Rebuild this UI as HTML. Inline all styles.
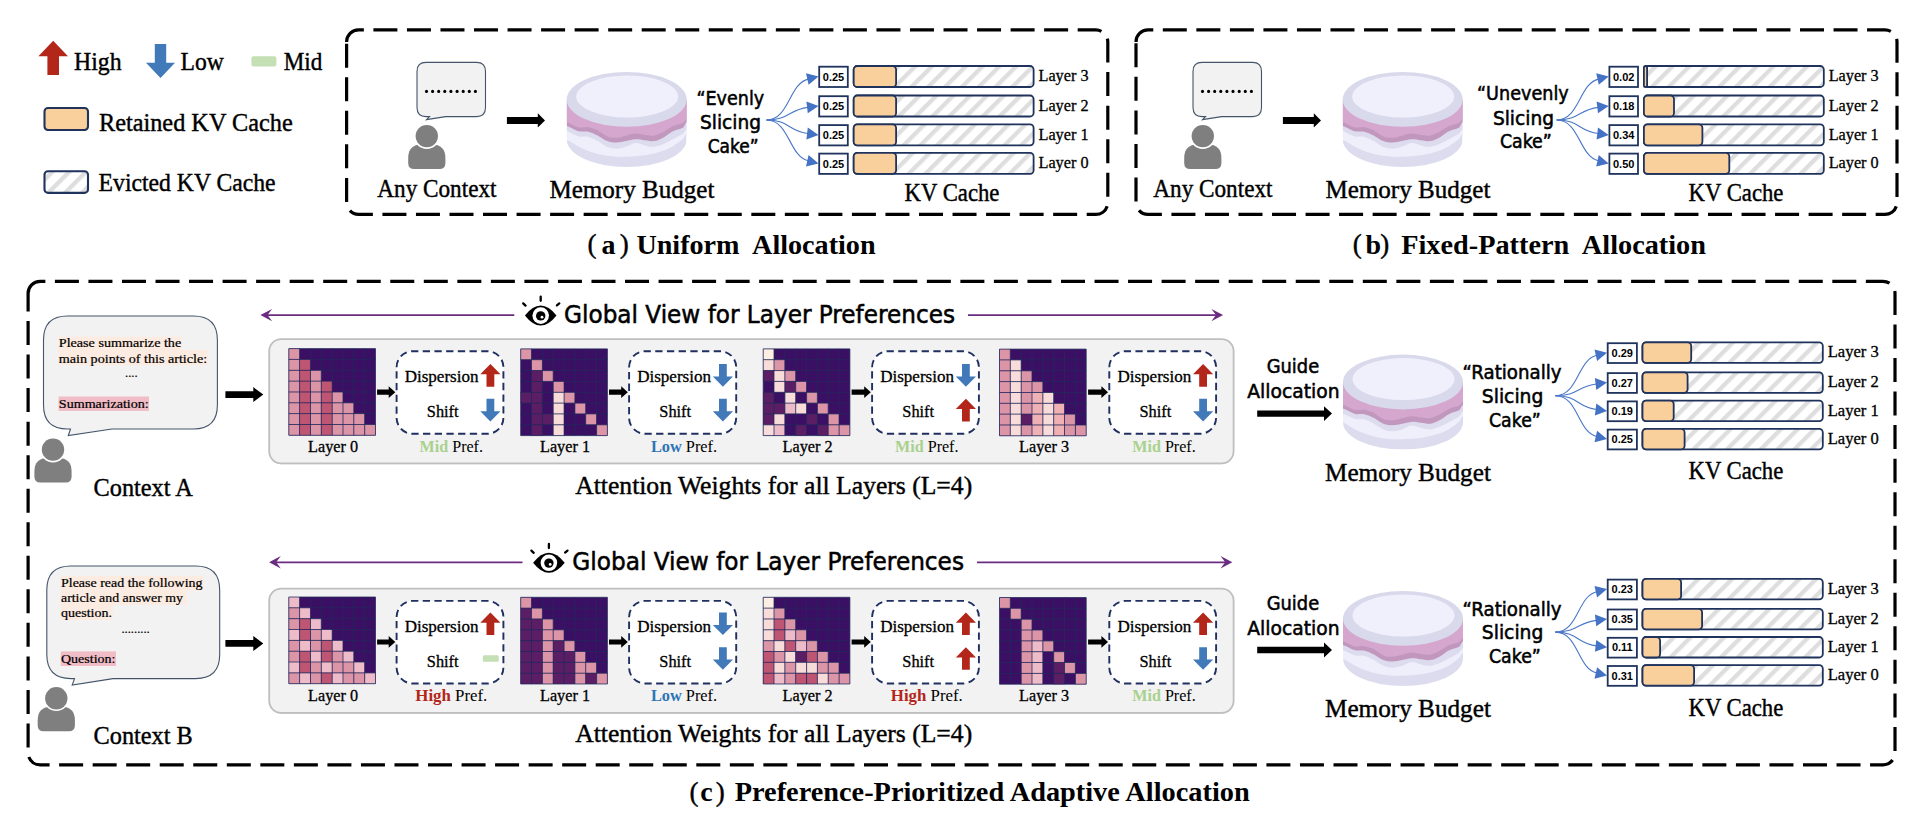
<!DOCTYPE html>
<html lang="en"><head><meta charset="utf-8"><title>KV Cache Allocation</title>
<style>html,body{margin:0;padding:0;background:#fff}svg{display:block}text{white-space:pre}</style>
</head><body>
<svg width="1920" height="818" viewBox="0 0 1920 818">
<defs>
<pattern id="hatch" width="11.9" height="11.9" patternUnits="userSpaceOnUse" patternTransform="rotate(45) translate(1.7 0)"><rect width="11.9" height="11.9" fill="#fff"/><rect x="0" y="0" width="4.3" height="11.9" fill="#dedede"/></pattern>
</defs>
<rect width="1920" height="818" fill="#fff"/>
<path d="M53.2,40.8 L68.0,56.2 L59.0,56.2 L59.0,75.0 L47.4,75.0 L47.4,56.2 L38.4,56.2 Z" fill="#b3261a"/>
<text x="74.0" y="69.7" font-size="25" font-family='"Liberation Serif", "DejaVu Serif", serif' textLength="47.5" lengthAdjust="spacingAndGlyphs" stroke="#000" stroke-width="0.42">High</text>
<path d="M160.5,78.0 L175.0,62.7 L166.2,62.7 L166.2,44.0 L154.8,44.0 L154.8,62.7 L146.0,62.7 Z" fill="#4179b9"/>
<text x="180.5" y="70.1" font-size="25" font-family='"Liberation Serif", "DejaVu Serif", serif' textLength="43.3" lengthAdjust="spacingAndGlyphs" stroke="#000" stroke-width="0.42">Low</text>
<rect x="251.4" y="56.2" width="25" height="10.3" rx="2" fill="#c5e0b4"/>
<text x="283.7" y="70.1" font-size="25" font-family='"Liberation Serif", "DejaVu Serif", serif' textLength="38.6" lengthAdjust="spacingAndGlyphs" stroke="#000" stroke-width="0.42">Mid</text>
<rect x="44.5" y="108" width="43.5" height="22" rx="3.5" fill="#f9cf9b" stroke="#1f335d" stroke-width="2.1"/>
<text x="99.0" y="130.5" font-size="25" font-family='"Liberation Serif", "DejaVu Serif", serif' textLength="193.7" lengthAdjust="spacingAndGlyphs" stroke="#000" stroke-width="0.42">Retained KV Cache</text>
<rect x="44.5" y="171.3" width="43.5" height="21.6" rx="3.5" fill="url(#hatch)" stroke="#1f335d" stroke-width="2.1"/>
<text x="98.6" y="191.2" font-size="25" font-family='"Liberation Serif", "DejaVu Serif", serif' textLength="177.0" lengthAdjust="spacingAndGlyphs" stroke="#000" stroke-width="0.42">Evicted KV Cache</text>
<path d="M346.6,41.9 A12,12 0 0 1 358.6,29.9 H1095.8 A12,12 0 0 1 1107.8,41.9 V202.4 A12,12 0 0 1 1095.8,214.4 H358.6 A12,12 0 0 1 346.6,202.4 Z" fill="none" stroke="#000" stroke-width="3.2" stroke-dasharray="24 9.536" stroke-dashoffset="0"/>
<path d="M426.0,62.4 L476.5,62.4 Q485.5,62.4 485.5,71.4 L485.5,107.6 Q485.5,116.6 476.5,116.6 L445.6,116.6 L426.5,119.6 L429.5,116.6 L426.0,116.6 Q417.0,116.6 417.0,107.6 L417.0,71.4 Q417.0,62.4 426.0,62.4 Z" fill="#f2f2f2" stroke="#44546a" stroke-width="1.1"/>
<circle cx="426.5" cy="91.4" r="1.55" fill="#000"/>
<circle cx="432.6" cy="91.4" r="1.55" fill="#000"/>
<circle cx="438.7" cy="91.4" r="1.55" fill="#000"/>
<circle cx="444.8" cy="91.4" r="1.55" fill="#000"/>
<circle cx="450.9" cy="91.4" r="1.55" fill="#000"/>
<circle cx="457.1" cy="91.4" r="1.55" fill="#000"/>
<circle cx="463.2" cy="91.4" r="1.55" fill="#000"/>
<circle cx="469.3" cy="91.4" r="1.55" fill="#000"/>
<circle cx="475.4" cy="91.4" r="1.55" fill="#000"/>
<g fill="#7f7f7f">
<path d="M408.2,163.1 L408.2,158.0 Q408.2,144.5 421.7,144.5 L431.9,144.5 Q445.4,144.5 445.4,158.0 L445.4,163.1 Q445.4,169.1 439.4,169.1 L414.2,169.1 Q408.2,169.1 408.2,163.1 Z"/>
<circle cx="426.8" cy="136.1" r="12.8" fill="#fff"/>
<circle cx="426.8" cy="136.1" r="11.2"/>
</g>
<text x="377.3" y="196.5" font-size="25" font-family='"Liberation Serif", "DejaVu Serif", serif' textLength="119.2" lengthAdjust="spacingAndGlyphs" stroke="#000" stroke-width="0.42">Any Context</text>
<path d="M506.9,117.0 L537.8,117.0 L537.8,113.3 L545.0,120.4 L537.8,127.5 L537.8,123.9 L506.9,123.9 Z" fill="#000"/>
<g transform="translate(566.7,72.0)">
<clipPath id="ck1"><path d="M0,27.4 L0,67.6 A60,27.4 0 0 0 120,67.6 L120,27.4 Z"/></clipPath>
<g clip-path="url(#ck1)">
<rect x="0" y="0" width="120" height="100" fill="#dcdcee"/>
<path d="M-1,0 L-1.0,67.6 C-0.4,67.9 0.5,67.9 2.7,69.1 C4.9,70.3 9.0,73.1 12.1,74.8 C15.3,76.4 18.4,77.8 21.5,79.0 C24.7,80.2 27.8,81.1 31.0,81.9 C34.1,82.6 37.2,83.3 40.4,83.7 C43.5,84.2 46.7,84.5 49.8,84.7 C52.9,84.8 56.1,84.8 59.2,84.7 C62.4,84.6 65.5,84.4 68.6,84.2 C71.8,84.0 74.9,83.7 78.0,83.3 C81.2,82.8 84.3,82.2 87.5,81.4 C90.6,80.6 93.7,79.7 96.9,78.6 C100.0,77.4 103.2,76.2 106.3,74.3 C109.4,72.4 113.6,69.2 115.7,67.3 C117.8,65.3 118.1,63.7 119.0,62.5 C119.9,61.4 120.7,60.9 121.0,60.5 L121,0 Z" fill="#efeffc"/>
<path d="M-1,0 L-1.0,58.7 C-0.4,58.9 0.5,59.2 2.7,60.2 C4.9,61.2 9.0,63.6 12.1,64.4 C15.3,65.2 18.4,64.1 21.5,64.9 C24.7,65.7 27.8,67.5 31.0,69.1 C34.1,70.8 37.2,73.5 40.4,74.8 C43.5,76.0 46.7,76.7 49.8,76.7 C52.9,76.7 56.1,75.7 59.2,74.8 C62.4,73.8 65.5,71.3 68.6,71.0 C71.8,70.8 74.9,72.7 78.0,73.4 C81.2,74.0 84.3,75.0 87.5,74.8 C90.6,74.6 93.7,73.2 96.9,72.0 C100.0,70.7 103.2,68.9 106.3,67.3 C109.4,65.6 113.6,63.6 115.7,62.1 C117.8,60.5 118.1,58.9 119.0,57.8 C119.9,56.8 120.7,56.2 121.0,55.8 L121,0 Z" fill="#dcdcee"/>
<path d="M-1,0 L-1.0,53.5 C-0.4,53.8 0.5,54.1 2.7,55.0 C4.9,56.0 9.0,58.5 12.1,59.3 C15.3,60.0 18.4,59.0 21.5,59.7 C24.7,60.4 27.8,61.9 31.0,63.5 C34.1,65.1 37.2,68.0 40.4,69.1 C43.5,70.3 46.7,70.6 49.8,70.6 C52.9,70.6 56.1,69.7 59.2,69.1 C62.4,68.6 65.5,67.4 68.6,67.3 C71.8,67.1 74.9,67.9 78.0,68.2 C81.2,68.5 84.3,69.6 87.5,69.1 C90.6,68.7 93.7,67.0 96.9,65.4 C100.0,63.7 103.2,60.8 106.3,59.3 C109.4,57.7 113.6,57.3 115.7,56.0 C117.8,54.6 118.1,52.4 119.0,51.2 C119.9,50.1 120.7,49.6 121.0,49.2 L121,0 Z" fill="#c197be"/>
<path d="M-1,0 L-1.0,49.7 C-0.4,50.0 0.5,50.3 2.7,51.2 C4.9,52.2 9.0,54.8 12.1,55.5 C15.3,56.1 18.4,54.7 21.5,55.2 C24.7,55.7 27.8,56.8 31.0,58.3 C34.1,59.8 37.2,63.2 40.4,64.4 C43.5,65.7 46.7,66.0 49.8,65.8 C52.9,65.7 56.1,64.4 59.2,63.7 C62.4,63.0 65.5,61.7 68.6,61.6 C71.8,61.5 74.9,62.7 78.0,63.0 C81.2,63.3 84.3,64.0 87.5,63.5 C90.6,62.9 93.7,61.3 96.9,59.7 C100.0,58.2 103.2,55.5 106.3,54.1 C109.4,52.7 113.5,52.3 115.7,51.2 C117.9,50.2 118.4,48.4 119.3,47.5 C120.2,46.5 120.7,45.8 121.0,45.5 L121,0 Z" fill="#d5a6ce"/>
</g>
<ellipse cx="60" cy="27.4" rx="60" ry="27.4" fill="#d9d9ec"/>
<ellipse cx="60.5" cy="24.5" rx="51" ry="21" fill="#f0f0fd"/>
</g>
<text x="549.4" y="198.4" font-size="25" font-family='"Liberation Serif", "DejaVu Serif", serif' textLength="165.0" lengthAdjust="spacingAndGlyphs" stroke="#000" stroke-width="0.42">Memory Budget</text>
<text x="696.4" y="105.0" font-size="19" font-family='"DejaVu Sans", "Liberation Sans", sans-serif' textLength="67.8" lengthAdjust="spacingAndGlyphs" stroke="#000" stroke-width="0.55">“Evenly</text>
<text x="700.0" y="129.0" font-size="19" font-family='"DejaVu Sans", "Liberation Sans", sans-serif' textLength="61.0" lengthAdjust="spacingAndGlyphs" stroke="#000" stroke-width="0.55">Slicing</text>
<text x="707.7" y="153.0" font-size="19" font-family='"DejaVu Sans", "Liberation Sans", sans-serif' textLength="51.0" lengthAdjust="spacingAndGlyphs" stroke="#000" stroke-width="0.55">Cake”</text>
<path d="M766.5,120.0 C789.5,120.0 788.8,83.4 808.3,79.1" fill="none" stroke="#4a78c6" stroke-width="1.1"/>
<path d="M818.5,76.5 L806.0,73.3 L808.6,84.8 Z" fill="#4472c4"/>
<rect x="819.2" y="66.7" width="28.6" height="20.3" fill="#fff" stroke="#1f335d" stroke-width="1.8"/>
<text x="833.5" y="80.6" font-size="11" font-family='"Liberation Sans", "DejaVu Sans", sans-serif' font-weight="bold" text-anchor="middle">0.25</text>
<rect x="853.7" y="66.0" width="179.9" height="21.0" rx="3.6" ry="3.6" fill="url(#hatch)" stroke="#1f335d" stroke-width="1.8"/>
<rect x="853.7" y="66.0" width="42.4" height="21.0" rx="3.6" fill="#f9cf9b" stroke="#1f335d" stroke-width="1.8"/>
<path d="M766.5,120.0 C789.5,120.0 788.2,109.7 808.1,107.4" fill="none" stroke="#4a78c6" stroke-width="1.1"/>
<path d="M818.5,106.0 L806.4,101.5 L807.8,113.3 Z" fill="#4472c4"/>
<rect x="819.2" y="96.2" width="28.6" height="20.3" fill="#fff" stroke="#1f335d" stroke-width="1.8"/>
<text x="833.5" y="110.1" font-size="11" font-family='"Liberation Sans", "DejaVu Sans", sans-serif' font-weight="bold" text-anchor="middle">0.25</text>
<rect x="853.7" y="95.5" width="179.9" height="21.0" rx="3.6" ry="3.6" fill="url(#hatch)" stroke="#1f335d" stroke-width="1.8"/>
<rect x="853.7" y="95.5" width="42.4" height="21.0" rx="3.6" fill="#f9cf9b" stroke="#1f335d" stroke-width="1.8"/>
<path d="M766.5,120.0 C789.5,120.0 788.2,131.2 808.1,133.5" fill="none" stroke="#4a78c6" stroke-width="1.1"/>
<path d="M818.5,134.9 L807.8,127.6 L806.4,139.4 Z" fill="#4472c4"/>
<rect x="819.2" y="125.1" width="28.6" height="20.3" fill="#fff" stroke="#1f335d" stroke-width="1.8"/>
<text x="833.5" y="139.0" font-size="11" font-family='"Liberation Sans", "DejaVu Sans", sans-serif' font-weight="bold" text-anchor="middle">0.25</text>
<rect x="853.7" y="124.4" width="179.9" height="21.0" rx="3.6" ry="3.6" fill="url(#hatch)" stroke="#1f335d" stroke-width="1.8"/>
<rect x="853.7" y="124.4" width="42.4" height="21.0" rx="3.6" fill="#f9cf9b" stroke="#1f335d" stroke-width="1.8"/>
<path d="M766.5,120.0 C789.5,120.0 788.8,156.5 808.3,160.8" fill="none" stroke="#4a78c6" stroke-width="1.1"/>
<path d="M818.5,163.4 L808.6,155.1 L806.0,166.6 Z" fill="#4472c4"/>
<rect x="819.2" y="153.6" width="28.6" height="20.3" fill="#fff" stroke="#1f335d" stroke-width="1.8"/>
<text x="833.5" y="167.5" font-size="11" font-family='"Liberation Sans", "DejaVu Sans", sans-serif' font-weight="bold" text-anchor="middle">0.25</text>
<rect x="853.7" y="152.9" width="179.9" height="21.0" rx="3.6" ry="3.6" fill="url(#hatch)" stroke="#1f335d" stroke-width="1.8"/>
<rect x="853.7" y="152.9" width="42.4" height="21.0" rx="3.6" fill="#f9cf9b" stroke="#1f335d" stroke-width="1.8"/>
<text x="1038.5" y="81.1" font-size="16" font-family='"Liberation Serif", "DejaVu Serif", serif' textLength="50.0" lengthAdjust="spacingAndGlyphs" stroke="#000" stroke-width="0.3">Layer 3</text>
<text x="1038.5" y="110.6" font-size="16" font-family='"Liberation Serif", "DejaVu Serif", serif' textLength="50.0" lengthAdjust="spacingAndGlyphs" stroke="#000" stroke-width="0.3">Layer 2</text>
<text x="1038.5" y="139.5" font-size="16" font-family='"Liberation Serif", "DejaVu Serif", serif' textLength="50.0" lengthAdjust="spacingAndGlyphs" stroke="#000" stroke-width="0.3">Layer 1</text>
<text x="1038.5" y="168.0" font-size="16" font-family='"Liberation Serif", "DejaVu Serif", serif' textLength="50.0" lengthAdjust="spacingAndGlyphs" stroke="#000" stroke-width="0.3">Layer 0</text>
<text x="904.6" y="200.8" font-size="25" font-family='"Liberation Serif", "DejaVu Serif", serif' textLength="94.8" lengthAdjust="spacingAndGlyphs" stroke="#000" stroke-width="0.42">KV Cache</text>
<text x="587.5" y="253.3" font-size="27" font-family='"Liberation Serif", "DejaVu Serif", serif' stroke="#000" stroke-width="0.42">(</text>
<text x="601.6" y="253.8" font-size="28" font-family='"Liberation Serif", "DejaVu Serif", serif' font-weight="bold">a</text>
<text x="628.8" y="253.3" font-size="27" font-family='"Liberation Serif", "DejaVu Serif", serif' text-anchor="end" stroke="#000" stroke-width="0.42">)</text>
<text x="636.4" y="253.8" font-size="28" font-family='"Liberation Serif", "DejaVu Serif", serif' font-weight="bold" textLength="239.2" lengthAdjust="spacingAndGlyphs">Uniform  Allocation</text>
<path d="M1136.0,41.9 A12,12 0 0 1 1148.0,29.9 H1885.0 A12,12 0 0 1 1897.0,41.9 V202.4 A12,12 0 0 1 1885.0,214.4 H1148.0 A12,12 0 0 1 1136.0,202.4 Z" fill="none" stroke="#000" stroke-width="3.2" stroke-dasharray="24 9.536" stroke-dashoffset="0"/>
<path d="M1202.0,62.4 L1252.5,62.4 Q1261.5,62.4 1261.5,71.4 L1261.5,107.6 Q1261.5,116.6 1252.5,116.6 L1221.6,116.6 L1202.5,119.6 L1205.5,116.6 L1202.0,116.6 Q1193.0,116.6 1193.0,107.6 L1193.0,71.4 Q1193.0,62.4 1202.0,62.4 Z" fill="#f2f2f2" stroke="#44546a" stroke-width="1.1"/>
<circle cx="1202.5" cy="91.4" r="1.55" fill="#000"/>
<circle cx="1208.6" cy="91.4" r="1.55" fill="#000"/>
<circle cx="1214.7" cy="91.4" r="1.55" fill="#000"/>
<circle cx="1220.8" cy="91.4" r="1.55" fill="#000"/>
<circle cx="1226.9" cy="91.4" r="1.55" fill="#000"/>
<circle cx="1233.0" cy="91.4" r="1.55" fill="#000"/>
<circle cx="1239.2" cy="91.4" r="1.55" fill="#000"/>
<circle cx="1245.3" cy="91.4" r="1.55" fill="#000"/>
<circle cx="1251.4" cy="91.4" r="1.55" fill="#000"/>
<g fill="#7f7f7f">
<path d="M1184.2,163.1 L1184.2,158.0 Q1184.2,144.5 1197.7,144.5 L1207.9,144.5 Q1221.4,144.5 1221.4,158.0 L1221.4,163.1 Q1221.4,169.1 1215.4,169.1 L1190.2,169.1 Q1184.2,169.1 1184.2,163.1 Z"/>
<circle cx="1202.8" cy="136.1" r="12.8" fill="#fff"/>
<circle cx="1202.8" cy="136.1" r="11.2"/>
</g>
<text x="1153.3" y="196.5" font-size="25" font-family='"Liberation Serif", "DejaVu Serif", serif' textLength="119.2" lengthAdjust="spacingAndGlyphs" stroke="#000" stroke-width="0.42">Any Context</text>
<path d="M1282.9,117.0 L1313.8,117.0 L1313.8,113.3 L1321.0,120.4 L1313.8,127.5 L1313.8,123.9 L1282.9,123.9 Z" fill="#000"/>
<g transform="translate(1342.7,72.0)">
<clipPath id="ck2"><path d="M0,27.4 L0,67.6 A60,27.4 0 0 0 120,67.6 L120,27.4 Z"/></clipPath>
<g clip-path="url(#ck2)">
<rect x="0" y="0" width="120" height="100" fill="#dcdcee"/>
<path d="M-1,0 L-1.0,67.6 C-0.4,67.9 0.5,67.9 2.7,69.1 C4.9,70.3 9.0,73.1 12.1,74.8 C15.3,76.4 18.4,77.8 21.5,79.0 C24.7,80.2 27.8,81.1 31.0,81.9 C34.1,82.6 37.2,83.3 40.4,83.7 C43.5,84.2 46.7,84.5 49.8,84.7 C52.9,84.8 56.1,84.8 59.2,84.7 C62.4,84.6 65.5,84.4 68.6,84.2 C71.8,84.0 74.9,83.7 78.0,83.3 C81.2,82.8 84.3,82.2 87.5,81.4 C90.6,80.6 93.7,79.7 96.9,78.6 C100.0,77.4 103.2,76.2 106.3,74.3 C109.4,72.4 113.6,69.2 115.7,67.3 C117.8,65.3 118.1,63.7 119.0,62.5 C119.9,61.4 120.7,60.9 121.0,60.5 L121,0 Z" fill="#efeffc"/>
<path d="M-1,0 L-1.0,58.7 C-0.4,58.9 0.5,59.2 2.7,60.2 C4.9,61.2 9.0,63.6 12.1,64.4 C15.3,65.2 18.4,64.1 21.5,64.9 C24.7,65.7 27.8,67.5 31.0,69.1 C34.1,70.8 37.2,73.5 40.4,74.8 C43.5,76.0 46.7,76.7 49.8,76.7 C52.9,76.7 56.1,75.7 59.2,74.8 C62.4,73.8 65.5,71.3 68.6,71.0 C71.8,70.8 74.9,72.7 78.0,73.4 C81.2,74.0 84.3,75.0 87.5,74.8 C90.6,74.6 93.7,73.2 96.9,72.0 C100.0,70.7 103.2,68.9 106.3,67.3 C109.4,65.6 113.6,63.6 115.7,62.1 C117.8,60.5 118.1,58.9 119.0,57.8 C119.9,56.8 120.7,56.2 121.0,55.8 L121,0 Z" fill="#dcdcee"/>
<path d="M-1,0 L-1.0,53.5 C-0.4,53.8 0.5,54.1 2.7,55.0 C4.9,56.0 9.0,58.5 12.1,59.3 C15.3,60.0 18.4,59.0 21.5,59.7 C24.7,60.4 27.8,61.9 31.0,63.5 C34.1,65.1 37.2,68.0 40.4,69.1 C43.5,70.3 46.7,70.6 49.8,70.6 C52.9,70.6 56.1,69.7 59.2,69.1 C62.4,68.6 65.5,67.4 68.6,67.3 C71.8,67.1 74.9,67.9 78.0,68.2 C81.2,68.5 84.3,69.6 87.5,69.1 C90.6,68.7 93.7,67.0 96.9,65.4 C100.0,63.7 103.2,60.8 106.3,59.3 C109.4,57.7 113.6,57.3 115.7,56.0 C117.8,54.6 118.1,52.4 119.0,51.2 C119.9,50.1 120.7,49.6 121.0,49.2 L121,0 Z" fill="#c197be"/>
<path d="M-1,0 L-1.0,49.7 C-0.4,50.0 0.5,50.3 2.7,51.2 C4.9,52.2 9.0,54.8 12.1,55.5 C15.3,56.1 18.4,54.7 21.5,55.2 C24.7,55.7 27.8,56.8 31.0,58.3 C34.1,59.8 37.2,63.2 40.4,64.4 C43.5,65.7 46.7,66.0 49.8,65.8 C52.9,65.7 56.1,64.4 59.2,63.7 C62.4,63.0 65.5,61.7 68.6,61.6 C71.8,61.5 74.9,62.7 78.0,63.0 C81.2,63.3 84.3,64.0 87.5,63.5 C90.6,62.9 93.7,61.3 96.9,59.7 C100.0,58.2 103.2,55.5 106.3,54.1 C109.4,52.7 113.5,52.3 115.7,51.2 C117.9,50.2 118.4,48.4 119.3,47.5 C120.2,46.5 120.7,45.8 121.0,45.5 L121,0 Z" fill="#d5a6ce"/>
</g>
<ellipse cx="60" cy="27.4" rx="60" ry="27.4" fill="#d9d9ec"/>
<ellipse cx="60.5" cy="24.5" rx="51" ry="21" fill="#f0f0fd"/>
</g>
<text x="1325.4" y="198.4" font-size="25" font-family='"Liberation Serif", "DejaVu Serif", serif' textLength="165.0" lengthAdjust="spacingAndGlyphs" stroke="#000" stroke-width="0.42">Memory Budget</text>
<text x="1477.0" y="100.0" font-size="19" font-family='"DejaVu Sans", "Liberation Sans", sans-serif' textLength="91.7" lengthAdjust="spacingAndGlyphs" stroke="#000" stroke-width="0.55">“Unevenly</text>
<text x="1492.9" y="124.5" font-size="19" font-family='"DejaVu Sans", "Liberation Sans", sans-serif' textLength="61.1" lengthAdjust="spacingAndGlyphs" stroke="#000" stroke-width="0.55">Slicing</text>
<text x="1499.9" y="148.4" font-size="19" font-family='"DejaVu Sans", "Liberation Sans", sans-serif' textLength="51.9" lengthAdjust="spacingAndGlyphs" stroke="#000" stroke-width="0.55">Cake”</text>
<path d="M1556.7,120.0 C1579.7,120.0 1579.0,83.4 1598.5,79.1" fill="none" stroke="#4a78c6" stroke-width="1.1"/>
<path d="M1608.7,76.5 L1596.2,73.3 L1598.8,84.8 Z" fill="#4472c4"/>
<rect x="1609.4" y="66.7" width="28.6" height="20.3" fill="#fff" stroke="#1f335d" stroke-width="1.8"/>
<text x="1623.7" y="80.6" font-size="11" font-family='"Liberation Sans", "DejaVu Sans", sans-serif' font-weight="bold" text-anchor="middle">0.02</text>
<rect x="1643.9" y="66.0" width="179.9" height="21.0" rx="3.6" ry="3.6" fill="url(#hatch)" stroke="#1f335d" stroke-width="1.8"/>
<rect x="1643.9" y="66.0" width="3.2" height="21.0" rx="1.6" fill="#f9cf9b" stroke="#1f335d" stroke-width="1.8"/>
<path d="M1556.7,120.0 C1579.7,120.0 1578.4,109.7 1598.3,107.4" fill="none" stroke="#4a78c6" stroke-width="1.1"/>
<path d="M1608.7,106.0 L1596.6,101.5 L1598.0,113.3 Z" fill="#4472c4"/>
<rect x="1609.4" y="96.2" width="28.6" height="20.3" fill="#fff" stroke="#1f335d" stroke-width="1.8"/>
<text x="1623.7" y="110.1" font-size="11" font-family='"Liberation Sans", "DejaVu Sans", sans-serif' font-weight="bold" text-anchor="middle">0.18</text>
<rect x="1643.9" y="95.5" width="179.9" height="21.0" rx="3.6" ry="3.6" fill="url(#hatch)" stroke="#1f335d" stroke-width="1.8"/>
<rect x="1643.9" y="95.5" width="30.1" height="21.0" rx="3.6" fill="#f9cf9b" stroke="#1f335d" stroke-width="1.8"/>
<path d="M1556.7,120.0 C1579.7,120.0 1578.4,131.2 1598.3,133.5" fill="none" stroke="#4a78c6" stroke-width="1.1"/>
<path d="M1608.7,134.9 L1598.0,127.6 L1596.6,139.4 Z" fill="#4472c4"/>
<rect x="1609.4" y="125.1" width="28.6" height="20.3" fill="#fff" stroke="#1f335d" stroke-width="1.8"/>
<text x="1623.7" y="139.0" font-size="11" font-family='"Liberation Sans", "DejaVu Sans", sans-serif' font-weight="bold" text-anchor="middle">0.34</text>
<rect x="1643.9" y="124.4" width="179.9" height="21.0" rx="3.6" ry="3.6" fill="url(#hatch)" stroke="#1f335d" stroke-width="1.8"/>
<rect x="1643.9" y="124.4" width="58.5" height="21.0" rx="3.6" fill="#f9cf9b" stroke="#1f335d" stroke-width="1.8"/>
<path d="M1556.7,120.0 C1579.7,120.0 1579.0,156.5 1598.5,160.8" fill="none" stroke="#4a78c6" stroke-width="1.1"/>
<path d="M1608.7,163.4 L1598.8,155.1 L1596.2,166.6 Z" fill="#4472c4"/>
<rect x="1609.4" y="153.6" width="28.6" height="20.3" fill="#fff" stroke="#1f335d" stroke-width="1.8"/>
<text x="1623.7" y="167.5" font-size="11" font-family='"Liberation Sans", "DejaVu Sans", sans-serif' font-weight="bold" text-anchor="middle">0.50</text>
<rect x="1643.9" y="152.9" width="179.9" height="21.0" rx="3.6" ry="3.6" fill="url(#hatch)" stroke="#1f335d" stroke-width="1.8"/>
<rect x="1643.9" y="152.9" width="85.4" height="21.0" rx="3.6" fill="#f9cf9b" stroke="#1f335d" stroke-width="1.8"/>
<text x="1828.7" y="81.1" font-size="16" font-family='"Liberation Serif", "DejaVu Serif", serif' textLength="50.0" lengthAdjust="spacingAndGlyphs" stroke="#000" stroke-width="0.3">Layer 3</text>
<text x="1828.7" y="110.6" font-size="16" font-family='"Liberation Serif", "DejaVu Serif", serif' textLength="50.0" lengthAdjust="spacingAndGlyphs" stroke="#000" stroke-width="0.3">Layer 2</text>
<text x="1828.7" y="139.5" font-size="16" font-family='"Liberation Serif", "DejaVu Serif", serif' textLength="50.0" lengthAdjust="spacingAndGlyphs" stroke="#000" stroke-width="0.3">Layer 1</text>
<text x="1828.7" y="168.0" font-size="16" font-family='"Liberation Serif", "DejaVu Serif", serif' textLength="50.0" lengthAdjust="spacingAndGlyphs" stroke="#000" stroke-width="0.3">Layer 0</text>
<text x="1688.6" y="200.8" font-size="25" font-family='"Liberation Serif", "DejaVu Serif", serif' textLength="94.8" lengthAdjust="spacingAndGlyphs" stroke="#000" stroke-width="0.42">KV Cache</text>
<text x="1352.8" y="253.3" font-size="27" font-family='"Liberation Serif", "DejaVu Serif", serif' stroke="#000" stroke-width="0.42">(</text>
<text x="1365.5" y="253.8" font-size="28" font-family='"Liberation Serif", "DejaVu Serif", serif' font-weight="bold">b</text>
<text x="1389.3" y="253.3" font-size="27" font-family='"Liberation Serif", "DejaVu Serif", serif' text-anchor="end" stroke="#000" stroke-width="0.42">)</text>
<text x="1401.2" y="253.8" font-size="28" font-family='"Liberation Serif", "DejaVu Serif", serif' font-weight="bold" textLength="304.8" lengthAdjust="spacingAndGlyphs">Fixed-Pattern  Allocation</text>
<path d="M28.1,293.3 A12,12 0 0 1 40.1,281.3 H1883.0 A12,12 0 0 1 1895.0,293.3 V752.8 A12,12 0 0 1 1883.0,764.8 H40.1 A12,12 0 0 1 28.1,752.8 Z" fill="none" stroke="#000" stroke-width="3.2" stroke-dasharray="24 9.536" stroke-dashoffset="0"/>
<text x="689.6" y="800.7" font-size="27" font-family='"Liberation Serif", "DejaVu Serif", serif' stroke="#000" stroke-width="0.42">(</text>
<text x="700.2" y="801.2" font-size="28" font-family='"Liberation Serif", "DejaVu Serif", serif' font-weight="bold">c</text>
<text x="724.7" y="800.7" font-size="27" font-family='"Liberation Serif", "DejaVu Serif", serif' text-anchor="end" stroke="#000" stroke-width="0.42">)</text>
<text x="734.7" y="801.2" font-size="28" font-family='"Liberation Serif", "DejaVu Serif", serif' font-weight="bold" textLength="515.0" lengthAdjust="spacingAndGlyphs">Preference-Prioritized Adaptive Allocation</text>
<path d="M263.4,315.1 H514.3 M968.0,315.1 H1220.1" stroke="#6a2c80" stroke-width="1.7" fill="none"/>
<path d="M260.4,315.1 l11.7,-6.2 l-4.6,6.2 l4.6,6.2 Z M1223.1,315.1 l-11.7,-6.2 l4.6,6.2 l-4.6,6.2 Z" fill="#6a2c80"/>
<g transform="translate(540.7,315.6)">
<path d="M-15.8,0 Q-8,-10 0,-10 Q8,-10 15.8,0 Q8,10 0,10 Q-8,10 -15.8,0 Z" fill="#000"/>
<circle cx="0" cy="0" r="8.3" fill="#fff"/>
<circle cx="0" cy="0.3" r="4.7" fill="#000"/>
<circle cx="1.3" cy="1.6" r="1.4" fill="#fff"/>
<path d="M0,-18.9 V-14.8 M-17.5,-12.2 L-15.2,-10 M16.2,-10.2 L18.6,-12.2" stroke="#000" stroke-width="2.3" stroke-linecap="round" fill="none"/>
</g>
<text x="564.1" y="322.5" font-size="25" font-family='"DejaVu Sans", "Liberation Sans", sans-serif' textLength="390.9" lengthAdjust="spacingAndGlyphs" stroke="#000" stroke-width="0.55">Global View for Layer Preferences</text>
<rect x="269.2" y="340.0" width="964.4" height="124.2" rx="12" fill="#d4d4d4"/>
<rect x="269.2" y="339.1" width="964.4" height="124.2" rx="12" fill="#f2f2f2" stroke="#bfbfbf" stroke-width="1.8"/>
<g transform="translate(288.8,348.6)">
<rect x="0" y="0" width="86.7" height="86.7" fill="#3b0f63"/>
<rect x="0.0" y="0.0" width="10.8" height="10.8" fill="#dc94a7"/>
<rect x="0.0" y="10.8" width="10.8" height="10.8" fill="#dc94a7"/>
<rect x="10.8" y="10.8" width="10.8" height="10.8" fill="#be5572"/>
<rect x="0.0" y="21.7" width="10.8" height="10.8" fill="#dc94a7"/>
<rect x="10.8" y="21.7" width="10.8" height="10.8" fill="#be5572"/>
<rect x="21.7" y="21.7" width="10.8" height="10.8" fill="#dc94a7"/>
<rect x="0.0" y="32.5" width="10.8" height="10.8" fill="#dc94a7"/>
<rect x="10.8" y="32.5" width="10.8" height="10.8" fill="#be5572"/>
<rect x="21.7" y="32.5" width="10.8" height="10.8" fill="#dc94a7"/>
<rect x="32.5" y="32.5" width="10.8" height="10.8" fill="#be5572"/>
<rect x="0.0" y="43.4" width="10.8" height="10.8" fill="#dc94a7"/>
<rect x="10.8" y="43.4" width="10.8" height="10.8" fill="#be5572"/>
<rect x="21.7" y="43.4" width="10.8" height="10.8" fill="#dc94a7"/>
<rect x="32.5" y="43.4" width="10.8" height="10.8" fill="#be5572"/>
<rect x="43.4" y="43.4" width="10.8" height="10.8" fill="#dc94a7"/>
<rect x="0.0" y="54.2" width="10.8" height="10.8" fill="#dc94a7"/>
<rect x="10.8" y="54.2" width="10.8" height="10.8" fill="#be5572"/>
<rect x="21.7" y="54.2" width="10.8" height="10.8" fill="#dc94a7"/>
<rect x="32.5" y="54.2" width="10.8" height="10.8" fill="#be5572"/>
<rect x="43.4" y="54.2" width="10.8" height="10.8" fill="#dc94a7"/>
<rect x="54.2" y="54.2" width="10.8" height="10.8" fill="#dc94a7"/>
<rect x="0.0" y="65.0" width="10.8" height="10.8" fill="#dc94a7"/>
<rect x="10.8" y="65.0" width="10.8" height="10.8" fill="#be5572"/>
<rect x="21.7" y="65.0" width="10.8" height="10.8" fill="#dc94a7"/>
<rect x="32.5" y="65.0" width="10.8" height="10.8" fill="#be5572"/>
<rect x="43.4" y="65.0" width="10.8" height="10.8" fill="#dc94a7"/>
<rect x="54.2" y="65.0" width="10.8" height="10.8" fill="#dc94a7"/>
<rect x="65.0" y="65.0" width="10.8" height="10.8" fill="#dc94a7"/>
<rect x="0.0" y="75.9" width="10.8" height="10.8" fill="#dc94a7"/>
<rect x="10.8" y="75.9" width="10.8" height="10.8" fill="#be5572"/>
<rect x="21.7" y="75.9" width="10.8" height="10.8" fill="#dc94a7"/>
<rect x="32.5" y="75.9" width="10.8" height="10.8" fill="#be5572"/>
<rect x="43.4" y="75.9" width="10.8" height="10.8" fill="#dc94a7"/>
<rect x="54.2" y="75.9" width="10.8" height="10.8" fill="#dc94a7"/>
<rect x="65.0" y="75.9" width="10.8" height="10.8" fill="#dc94a7"/>
<rect x="75.9" y="75.9" width="10.8" height="10.8" fill="#dc94a7"/>
<path d="M0.0,0 V86.7 M0,0.0 H86.7 M10.8,0 V86.7 M0,10.8 H86.7 M21.7,0 V86.7 M0,21.7 H86.7 M32.5,0 V86.7 M0,32.5 H86.7 M43.4,0 V86.7 M0,43.4 H86.7 M54.2,0 V86.7 M0,54.2 H86.7 M65.0,0 V86.7 M0,65.0 H86.7 M75.9,0 V86.7 M0,75.9 H86.7 M86.7,0 V86.7 M0,86.7 H86.7 " stroke="#1f2a5c" stroke-width="0.9" fill="none" opacity="0.85"/>
</g>
<text x="308.1" y="451.5" font-size="16" font-family='"Liberation Serif", "DejaVu Serif", serif' textLength="50.0" lengthAdjust="spacingAndGlyphs" stroke="#000" stroke-width="0.3">Layer 0</text>
<path d="M377.1,389.6 L388.7,389.6 L388.7,386.3 L395.3,392.2 L388.7,398.1 L388.7,394.8 L377.1,394.8 Z" fill="#000"/>
<path d="M396.6,367.2 A16,16 0 0 1 412.6,351.2 H487.4 A16,16 0 0 1 503.4,367.2 V417.8 A16,16 0 0 1 487.4,433.8 H412.6 A16,16 0 0 1 396.6,417.8 Z" fill="#fff" stroke="#1f3060" stroke-width="1.9" stroke-dasharray="7.3 4.4" stroke-dashoffset="0"/>
<text x="404.7" y="382.4" font-size="16" font-family='"Liberation Serif", "DejaVu Serif", serif' textLength="73.8" lengthAdjust="spacingAndGlyphs" stroke="#000" stroke-width="0.3">Dispersion</text>
<text x="426.8" y="416.9" font-size="16" font-family='"Liberation Serif", "DejaVu Serif", serif' textLength="31.8" lengthAdjust="spacingAndGlyphs" stroke="#000" stroke-width="0.3">Shift</text>
<path d="M490.4,364.1 L500.5,374.3 L494.3,374.3 L494.3,386.7 L486.5,386.7 L486.5,374.3 L480.3,374.3 Z" fill="#b3261a"/>
<path d="M490.4,421.4 L500.5,411.2 L494.3,411.2 L494.3,398.8 L486.5,398.8 L486.5,411.2 L480.3,411.2 Z" fill="#4179b9"/>
<text x="419.6" y="451.6" font-size="16" font-family='"Liberation Serif", "DejaVu Serif", serif' textLength="63.4" lengthAdjust="spacingAndGlyphs"><tspan font-weight="bold" fill="#a9d18e">Mid</tspan> Pref.</text>
<g transform="translate(520.7,348.9)">
<rect x="0" y="0" width="86.7" height="86.7" fill="#3b0f63"/>
<rect x="0.0" y="0.0" width="10.8" height="10.8" fill="#dc94a7"/>
<rect x="10.8" y="10.8" width="10.8" height="10.8" fill="#dc94a7"/>
<rect x="10.8" y="21.7" width="10.8" height="10.8" fill="#5b1e65"/>
<rect x="21.7" y="21.7" width="10.8" height="10.8" fill="#dc94a7"/>
<rect x="10.8" y="32.5" width="10.8" height="10.8" fill="#5b1e65"/>
<rect x="32.5" y="32.5" width="10.8" height="10.8" fill="#dc94a7"/>
<rect x="0.0" y="43.4" width="10.8" height="10.8" fill="#5b1e65"/>
<rect x="10.8" y="43.4" width="10.8" height="10.8" fill="#5b1e65"/>
<rect x="32.5" y="43.4" width="10.8" height="10.8" fill="#f7dcd9"/>
<rect x="43.4" y="43.4" width="10.8" height="10.8" fill="#dc94a7"/>
<rect x="10.8" y="54.2" width="10.8" height="10.8" fill="#5b1e65"/>
<rect x="32.5" y="54.2" width="10.8" height="10.8" fill="#f7dcd9"/>
<rect x="54.2" y="54.2" width="10.8" height="10.8" fill="#dc94a7"/>
<rect x="10.8" y="65.0" width="10.8" height="10.8" fill="#5b1e65"/>
<rect x="21.7" y="65.0" width="10.8" height="10.8" fill="#5b1e65"/>
<rect x="32.5" y="65.0" width="10.8" height="10.8" fill="#f7dcd9"/>
<rect x="65.0" y="65.0" width="10.8" height="10.8" fill="#dc94a7"/>
<rect x="10.8" y="75.9" width="10.8" height="10.8" fill="#5b1e65"/>
<rect x="32.5" y="75.9" width="10.8" height="10.8" fill="#f7dcd9"/>
<rect x="75.9" y="75.9" width="10.8" height="10.8" fill="#dc94a7"/>
<path d="M0.0,0 V86.7 M0,0.0 H86.7 M10.8,0 V86.7 M0,10.8 H86.7 M21.7,0 V86.7 M0,21.7 H86.7 M32.5,0 V86.7 M0,32.5 H86.7 M43.4,0 V86.7 M0,43.4 H86.7 M54.2,0 V86.7 M0,54.2 H86.7 M65.0,0 V86.7 M0,65.0 H86.7 M75.9,0 V86.7 M0,75.9 H86.7 M86.7,0 V86.7 M0,86.7 H86.7 " stroke="#1f2a5c" stroke-width="0.9" fill="none" opacity="0.85"/>
</g>
<text x="540.0" y="451.5" font-size="16" font-family='"Liberation Serif", "DejaVu Serif", serif' textLength="50.0" lengthAdjust="spacingAndGlyphs" stroke="#000" stroke-width="0.3">Layer 1</text>
<path d="M609.0,389.6 L621.2,389.6 L621.2,386.3 L627.8,392.2 L621.2,398.1 L621.2,394.8 L609.0,394.8 Z" fill="#000"/>
<path d="M629.1,367.2 A16,16 0 0 1 645.1,351.2 H720.2 A16,16 0 0 1 736.2,367.2 V417.8 A16,16 0 0 1 720.2,433.8 H645.1 A16,16 0 0 1 629.1,417.8 Z" fill="#fff" stroke="#1f3060" stroke-width="1.9" stroke-dasharray="7.3 4.4" stroke-dashoffset="0"/>
<text x="637.2" y="382.4" font-size="16" font-family='"Liberation Serif", "DejaVu Serif", serif' textLength="73.8" lengthAdjust="spacingAndGlyphs" stroke="#000" stroke-width="0.3">Dispersion</text>
<text x="659.3" y="416.9" font-size="16" font-family='"Liberation Serif", "DejaVu Serif", serif' textLength="31.8" lengthAdjust="spacingAndGlyphs" stroke="#000" stroke-width="0.3">Shift</text>
<path d="M722.9,386.7 L733.0,376.5 L726.8,376.5 L726.8,364.1 L719.0,364.1 L719.0,376.5 L712.8,376.5 Z" fill="#4179b9"/>
<path d="M722.9,421.4 L733.0,411.2 L726.8,411.2 L726.8,398.8 L719.0,398.8 L719.0,411.2 L712.8,411.2 Z" fill="#4179b9"/>
<text x="650.9" y="451.6" font-size="16" font-family='"Liberation Serif", "DejaVu Serif", serif' textLength="66.2" lengthAdjust="spacingAndGlyphs"><tspan font-weight="bold" fill="#2e75b6">Low</tspan> Pref.</text>
<g transform="translate(763.2,348.9)">
<rect x="0" y="0" width="86.7" height="86.7" fill="#3b0f63"/>
<rect x="0.0" y="0.0" width="10.8" height="10.8" fill="#fdeee4"/>
<rect x="0.0" y="10.8" width="10.8" height="10.8" fill="#f7dcd9"/>
<rect x="10.8" y="10.8" width="10.8" height="10.8" fill="#dc94a7"/>
<rect x="0.0" y="21.7" width="10.8" height="10.8" fill="#5b1e65"/>
<rect x="10.8" y="21.7" width="10.8" height="10.8" fill="#f7dcd9"/>
<rect x="21.7" y="21.7" width="10.8" height="10.8" fill="#dc94a7"/>
<rect x="10.8" y="32.5" width="10.8" height="10.8" fill="#f7dcd9"/>
<rect x="21.7" y="32.5" width="10.8" height="10.8" fill="#5b1e65"/>
<rect x="32.5" y="32.5" width="10.8" height="10.8" fill="#dc94a7"/>
<rect x="0.0" y="43.4" width="10.8" height="10.8" fill="#5b1e65"/>
<rect x="21.7" y="43.4" width="10.8" height="10.8" fill="#f7dcd9"/>
<rect x="43.4" y="43.4" width="10.8" height="10.8" fill="#dc94a7"/>
<rect x="0.0" y="54.2" width="10.8" height="10.8" fill="#5b1e65"/>
<rect x="10.8" y="54.2" width="10.8" height="10.8" fill="#5b1e65"/>
<rect x="21.7" y="54.2" width="10.8" height="10.8" fill="#eebbc8"/>
<rect x="32.5" y="54.2" width="10.8" height="10.8" fill="#f7dcd9"/>
<rect x="54.2" y="54.2" width="10.8" height="10.8" fill="#dc94a7"/>
<rect x="0.0" y="65.0" width="10.8" height="10.8" fill="#5b1e65"/>
<rect x="10.8" y="65.0" width="10.8" height="10.8" fill="#f7dcd9"/>
<rect x="43.4" y="65.0" width="10.8" height="10.8" fill="#5b1e65"/>
<rect x="65.0" y="65.0" width="10.8" height="10.8" fill="#dc94a7"/>
<rect x="0.0" y="75.9" width="10.8" height="10.8" fill="#f7dcd9"/>
<rect x="10.8" y="75.9" width="10.8" height="10.8" fill="#eebbc8"/>
<rect x="32.5" y="75.9" width="10.8" height="10.8" fill="#5b1e65"/>
<rect x="54.2" y="75.9" width="10.8" height="10.8" fill="#5b1e65"/>
<rect x="65.0" y="75.9" width="10.8" height="10.8" fill="#dc94a7"/>
<rect x="75.9" y="75.9" width="10.8" height="10.8" fill="#dc94a7"/>
<path d="M0.0,0 V86.7 M0,0.0 H86.7 M10.8,0 V86.7 M0,10.8 H86.7 M21.7,0 V86.7 M0,21.7 H86.7 M32.5,0 V86.7 M0,32.5 H86.7 M43.4,0 V86.7 M0,43.4 H86.7 M54.2,0 V86.7 M0,54.2 H86.7 M65.0,0 V86.7 M0,65.0 H86.7 M75.9,0 V86.7 M0,75.9 H86.7 M86.7,0 V86.7 M0,86.7 H86.7 " stroke="#1f2a5c" stroke-width="0.9" fill="none" opacity="0.85"/>
</g>
<text x="782.6" y="451.5" font-size="16" font-family='"Liberation Serif", "DejaVu Serif", serif' textLength="50.0" lengthAdjust="spacingAndGlyphs" stroke="#000" stroke-width="0.3">Layer 2</text>
<path d="M851.6,389.6 L864.2,389.6 L864.2,386.3 L870.8,392.2 L864.2,398.1 L864.2,394.8 L851.6,394.8 Z" fill="#000"/>
<path d="M872.1,367.2 A16,16 0 0 1 888.1,351.2 H962.9 A16,16 0 0 1 978.9,367.2 V417.8 A16,16 0 0 1 962.9,433.8 H888.1 A16,16 0 0 1 872.1,417.8 Z" fill="#fff" stroke="#1f3060" stroke-width="1.9" stroke-dasharray="7.3 4.4" stroke-dashoffset="0"/>
<text x="880.2" y="382.4" font-size="16" font-family='"Liberation Serif", "DejaVu Serif", serif' textLength="73.8" lengthAdjust="spacingAndGlyphs" stroke="#000" stroke-width="0.3">Dispersion</text>
<text x="902.3" y="416.9" font-size="16" font-family='"Liberation Serif", "DejaVu Serif", serif' textLength="31.8" lengthAdjust="spacingAndGlyphs" stroke="#000" stroke-width="0.3">Shift</text>
<path d="M965.9,386.7 L976.0,376.5 L969.8,376.5 L969.8,364.1 L962.0,364.1 L962.0,376.5 L955.8,376.5 Z" fill="#4179b9"/>
<path d="M965.9,398.8 L976.0,409.0 L969.8,409.0 L969.8,421.4 L962.0,421.4 L962.0,409.0 L955.8,409.0 Z" fill="#b3261a"/>
<text x="895.1" y="451.6" font-size="16" font-family='"Liberation Serif", "DejaVu Serif", serif' textLength="63.4" lengthAdjust="spacingAndGlyphs"><tspan font-weight="bold" fill="#a9d18e">Mid</tspan> Pref.</text>
<g transform="translate(999.5,349.1)">
<rect x="0" y="0" width="86.7" height="86.7" fill="#3b0f63"/>
<rect x="0.0" y="0.0" width="10.8" height="10.8" fill="#dc94a7"/>
<rect x="0.0" y="10.8" width="10.8" height="10.8" fill="#dc94a7"/>
<rect x="10.8" y="10.8" width="10.8" height="10.8" fill="#f7dcd9"/>
<rect x="0.0" y="21.7" width="10.8" height="10.8" fill="#dc94a7"/>
<rect x="10.8" y="21.7" width="10.8" height="10.8" fill="#f7dcd9"/>
<rect x="21.7" y="21.7" width="10.8" height="10.8" fill="#dc94a7"/>
<rect x="0.0" y="32.5" width="10.8" height="10.8" fill="#dc94a7"/>
<rect x="10.8" y="32.5" width="10.8" height="10.8" fill="#f7dcd9"/>
<rect x="21.7" y="32.5" width="10.8" height="10.8" fill="#dc94a7"/>
<rect x="32.5" y="32.5" width="10.8" height="10.8" fill="#dc94a7"/>
<rect x="0.0" y="43.4" width="10.8" height="10.8" fill="#dc94a7"/>
<rect x="10.8" y="43.4" width="10.8" height="10.8" fill="#f7dcd9"/>
<rect x="21.7" y="43.4" width="10.8" height="10.8" fill="#dc94a7"/>
<rect x="32.5" y="43.4" width="10.8" height="10.8" fill="#efb1b4"/>
<rect x="43.4" y="43.4" width="10.8" height="10.8" fill="#f7dcd9"/>
<rect x="0.0" y="54.2" width="10.8" height="10.8" fill="#dc94a7"/>
<rect x="10.8" y="54.2" width="10.8" height="10.8" fill="#f7dcd9"/>
<rect x="21.7" y="54.2" width="10.8" height="10.8" fill="#dc94a7"/>
<rect x="32.5" y="54.2" width="10.8" height="10.8" fill="#efb1b4"/>
<rect x="43.4" y="54.2" width="10.8" height="10.8" fill="#f7dcd9"/>
<rect x="54.2" y="54.2" width="10.8" height="10.8" fill="#efb1b4"/>
<rect x="0.0" y="65.0" width="10.8" height="10.8" fill="#dc94a7"/>
<rect x="10.8" y="65.0" width="10.8" height="10.8" fill="#f7dcd9"/>
<rect x="21.7" y="65.0" width="10.8" height="10.8" fill="#5b1e65"/>
<rect x="32.5" y="65.0" width="10.8" height="10.8" fill="#efb1b4"/>
<rect x="43.4" y="65.0" width="10.8" height="10.8" fill="#f7dcd9"/>
<rect x="54.2" y="65.0" width="10.8" height="10.8" fill="#efb1b4"/>
<rect x="65.0" y="65.0" width="10.8" height="10.8" fill="#dc94a7"/>
<rect x="0.0" y="75.9" width="10.8" height="10.8" fill="#dc94a7"/>
<rect x="10.8" y="75.9" width="10.8" height="10.8" fill="#f7dcd9"/>
<rect x="21.7" y="75.9" width="10.8" height="10.8" fill="#dc94a7"/>
<rect x="32.5" y="75.9" width="10.8" height="10.8" fill="#efb1b4"/>
<rect x="43.4" y="75.9" width="10.8" height="10.8" fill="#f7dcd9"/>
<rect x="54.2" y="75.9" width="10.8" height="10.8" fill="#efb1b4"/>
<rect x="65.0" y="75.9" width="10.8" height="10.8" fill="#dc94a7"/>
<rect x="75.9" y="75.9" width="10.8" height="10.8" fill="#dc94a7"/>
<path d="M0.0,0 V86.7 M0,0.0 H86.7 M10.8,0 V86.7 M0,10.8 H86.7 M21.7,0 V86.7 M0,21.7 H86.7 M32.5,0 V86.7 M0,32.5 H86.7 M43.4,0 V86.7 M0,43.4 H86.7 M54.2,0 V86.7 M0,54.2 H86.7 M65.0,0 V86.7 M0,65.0 H86.7 M75.9,0 V86.7 M0,75.9 H86.7 M86.7,0 V86.7 M0,86.7 H86.7 " stroke="#1f2a5c" stroke-width="0.9" fill="none" opacity="0.85"/>
</g>
<text x="1019.1" y="451.5" font-size="16" font-family='"Liberation Serif", "DejaVu Serif", serif' textLength="50.0" lengthAdjust="spacingAndGlyphs" stroke="#000" stroke-width="0.3">Layer 3</text>
<path d="M1088.1,389.6 L1101.4,389.6 L1101.4,386.3 L1108.0,392.2 L1101.4,398.1 L1101.4,394.8 L1088.1,394.8 Z" fill="#000"/>
<path d="M1109.3,367.2 A16,16 0 0 1 1125.3,351.2 H1200.1 A16,16 0 0 1 1216.1,367.2 V417.8 A16,16 0 0 1 1200.1,433.8 H1125.3 A16,16 0 0 1 1109.3,417.8 Z" fill="#fff" stroke="#1f3060" stroke-width="1.9" stroke-dasharray="7.3 4.4" stroke-dashoffset="0"/>
<text x="1117.4" y="382.4" font-size="16" font-family='"Liberation Serif", "DejaVu Serif", serif' textLength="73.8" lengthAdjust="spacingAndGlyphs" stroke="#000" stroke-width="0.3">Dispersion</text>
<text x="1139.5" y="416.9" font-size="16" font-family='"Liberation Serif", "DejaVu Serif", serif' textLength="31.8" lengthAdjust="spacingAndGlyphs" stroke="#000" stroke-width="0.3">Shift</text>
<path d="M1203.1,364.1 L1213.2,374.3 L1207.0,374.3 L1207.0,386.7 L1199.2,386.7 L1199.2,374.3 L1193.0,374.3 Z" fill="#b3261a"/>
<path d="M1203.1,421.4 L1213.2,411.2 L1207.0,411.2 L1207.0,398.8 L1199.2,398.8 L1199.2,411.2 L1193.0,411.2 Z" fill="#4179b9"/>
<text x="1132.3" y="451.6" font-size="16" font-family='"Liberation Serif", "DejaVu Serif", serif' textLength="63.4" lengthAdjust="spacingAndGlyphs"><tspan font-weight="bold" fill="#a9d18e">Mid</tspan> Pref.</text>
<text x="575.2" y="493.6" font-size="25" font-family='"Liberation Serif", "DejaVu Serif", serif' textLength="397.0" lengthAdjust="spacingAndGlyphs" stroke="#000" stroke-width="0.42">Attention Weights for all Layers (L=4)</text>
<path d="M225.4,391.3 L253.3,391.3 L253.3,387.1 L263.3,394.6 L253.3,402.1 L253.3,397.9 L225.4,397.9 Z" fill="#000"/>
<path d="M67.5,316.0 L193.4,316.0 Q217.4,316.0 217.4,340.0 L217.4,405.0 Q217.4,429.0 193.4,429.0 L112.0,429.0 L68.3,435.6 L70.5,429.0 L67.5,429.0 Q43.5,429.0 43.5,405.0 L43.5,340.0 Q43.5,316.0 67.5,316.0 Z" fill="#f2f2f2" stroke="#44546a" stroke-width="1.1"/>
<rect x="58.6" y="336.6" width="123" height="13.4" fill="#fcebe1"/>
<rect x="58.6" y="350" width="149" height="15.2" fill="#fcebe1"/>
<rect x="58.6" y="396.5" width="90.4" height="14.4" fill="#f0bdc6"/>
<text x="58.8" y="347.2" font-size="12.6" font-family='"Liberation Serif", "DejaVu Serif", serif' textLength="122.4" lengthAdjust="spacingAndGlyphs" stroke="#000" stroke-width="0.22">Please summarize the</text>
<text x="58.8" y="362.5" font-size="12.6" font-family='"Liberation Serif", "DejaVu Serif", serif' textLength="148.4" lengthAdjust="spacingAndGlyphs" stroke="#000" stroke-width="0.22">main points of this article:</text>
<text x="131.3" y="376.5" font-size="12.6" font-family='"Liberation Serif", "DejaVu Serif", serif' text-anchor="middle" stroke="#000" stroke-width="0.22">....</text>
<text x="58.8" y="407.6" font-size="12.6" font-family='"Liberation Serif", "DejaVu Serif", serif' textLength="90.0" lengthAdjust="spacingAndGlyphs" stroke="#000" stroke-width="0.22">Summarization:</text>
<g fill="#7f7f7f">
<path d="M34.4,476.6 L34.4,471.5 Q34.4,458.0 47.9,458.0 L58.1,458.0 Q71.6,458.0 71.6,471.5 L71.6,476.6 Q71.6,482.6 65.6,482.6 L40.4,482.6 Q34.4,482.6 34.4,476.6 Z"/>
<circle cx="53.0" cy="449.6" r="12.8" fill="#fff"/>
<circle cx="53.0" cy="449.6" r="11.2"/>
</g>
<text x="93.6" y="495.5" font-size="25" font-family='"Liberation Serif", "DejaVu Serif", serif' textLength="99.2" lengthAdjust="spacingAndGlyphs" stroke="#000" stroke-width="0.42">Context A</text>
<text x="1266.7" y="373.1" font-size="19.5" font-family='"DejaVu Sans", "Liberation Sans", sans-serif' textLength="52.5" lengthAdjust="spacingAndGlyphs" stroke="#000" stroke-width="0.55">Guide</text>
<text x="1247.3" y="398.3" font-size="19.5" font-family='"DejaVu Sans", "Liberation Sans", sans-serif' textLength="92.3" lengthAdjust="spacingAndGlyphs" stroke="#000" stroke-width="0.55">Allocation</text>
<path d="M1257.2,410.4 L1324.0,410.4 L1324.0,406.2 L1332.0,413.6 L1324.0,421.0 L1324.0,416.8 L1257.2,416.8 Z" fill="#000"/>
<g transform="translate(1343.0,354.6)">
<clipPath id="ck3"><path d="M0,27.4 L0,67.6 A60,27.4 0 0 0 120,67.6 L120,27.4 Z"/></clipPath>
<g clip-path="url(#ck3)">
<rect x="0" y="0" width="120" height="100" fill="#dcdcee"/>
<path d="M-1,0 L-1.0,67.6 C-0.4,67.9 0.5,67.9 2.7,69.1 C4.9,70.3 9.0,73.1 12.1,74.8 C15.3,76.4 18.4,77.8 21.5,79.0 C24.7,80.2 27.8,81.1 31.0,81.9 C34.1,82.6 37.2,83.3 40.4,83.7 C43.5,84.2 46.7,84.5 49.8,84.7 C52.9,84.8 56.1,84.8 59.2,84.7 C62.4,84.6 65.5,84.4 68.6,84.2 C71.8,84.0 74.9,83.7 78.0,83.3 C81.2,82.8 84.3,82.2 87.5,81.4 C90.6,80.6 93.7,79.7 96.9,78.6 C100.0,77.4 103.2,76.2 106.3,74.3 C109.4,72.4 113.6,69.2 115.7,67.3 C117.8,65.3 118.1,63.7 119.0,62.5 C119.9,61.4 120.7,60.9 121.0,60.5 L121,0 Z" fill="#efeffc"/>
<path d="M-1,0 L-1.0,58.7 C-0.4,58.9 0.5,59.2 2.7,60.2 C4.9,61.2 9.0,63.6 12.1,64.4 C15.3,65.2 18.4,64.1 21.5,64.9 C24.7,65.7 27.8,67.5 31.0,69.1 C34.1,70.8 37.2,73.5 40.4,74.8 C43.5,76.0 46.7,76.7 49.8,76.7 C52.9,76.7 56.1,75.7 59.2,74.8 C62.4,73.8 65.5,71.3 68.6,71.0 C71.8,70.8 74.9,72.7 78.0,73.4 C81.2,74.0 84.3,75.0 87.5,74.8 C90.6,74.6 93.7,73.2 96.9,72.0 C100.0,70.7 103.2,68.9 106.3,67.3 C109.4,65.6 113.6,63.6 115.7,62.1 C117.8,60.5 118.1,58.9 119.0,57.8 C119.9,56.8 120.7,56.2 121.0,55.8 L121,0 Z" fill="#dcdcee"/>
<path d="M-1,0 L-1.0,53.5 C-0.4,53.8 0.5,54.1 2.7,55.0 C4.9,56.0 9.0,58.5 12.1,59.3 C15.3,60.0 18.4,59.0 21.5,59.7 C24.7,60.4 27.8,61.9 31.0,63.5 C34.1,65.1 37.2,68.0 40.4,69.1 C43.5,70.3 46.7,70.6 49.8,70.6 C52.9,70.6 56.1,69.7 59.2,69.1 C62.4,68.6 65.5,67.4 68.6,67.3 C71.8,67.1 74.9,67.9 78.0,68.2 C81.2,68.5 84.3,69.6 87.5,69.1 C90.6,68.7 93.7,67.0 96.9,65.4 C100.0,63.7 103.2,60.8 106.3,59.3 C109.4,57.7 113.6,57.3 115.7,56.0 C117.8,54.6 118.1,52.4 119.0,51.2 C119.9,50.1 120.7,49.6 121.0,49.2 L121,0 Z" fill="#c197be"/>
<path d="M-1,0 L-1.0,49.7 C-0.4,50.0 0.5,50.3 2.7,51.2 C4.9,52.2 9.0,54.8 12.1,55.5 C15.3,56.1 18.4,54.7 21.5,55.2 C24.7,55.7 27.8,56.8 31.0,58.3 C34.1,59.8 37.2,63.2 40.4,64.4 C43.5,65.7 46.7,66.0 49.8,65.8 C52.9,65.7 56.1,64.4 59.2,63.7 C62.4,63.0 65.5,61.7 68.6,61.6 C71.8,61.5 74.9,62.7 78.0,63.0 C81.2,63.3 84.3,64.0 87.5,63.5 C90.6,62.9 93.7,61.3 96.9,59.7 C100.0,58.2 103.2,55.5 106.3,54.1 C109.4,52.7 113.5,52.3 115.7,51.2 C117.9,50.2 118.4,48.4 119.3,47.5 C120.2,46.5 120.7,45.8 121.0,45.5 L121,0 Z" fill="#d5a6ce"/>
</g>
<ellipse cx="60" cy="27.4" rx="60" ry="27.4" fill="#d9d9ec"/>
<ellipse cx="60.5" cy="24.5" rx="51" ry="21" fill="#f0f0fd"/>
</g>
<text x="1325.0" y="480.8" font-size="25" font-family='"Liberation Serif", "DejaVu Serif", serif' textLength="165.9" lengthAdjust="spacingAndGlyphs" stroke="#000" stroke-width="0.42">Memory Budget</text>
<text x="1462.4" y="379.3" font-size="19" font-family='"DejaVu Sans", "Liberation Sans", sans-serif' textLength="99.2" lengthAdjust="spacingAndGlyphs" stroke="#000" stroke-width="0.55">“Rationally</text>
<text x="1481.8" y="403.0" font-size="19" font-family='"DejaVu Sans", "Liberation Sans", sans-serif' textLength="61.6" lengthAdjust="spacingAndGlyphs" stroke="#000" stroke-width="0.55">Slicing</text>
<text x="1489.0" y="426.7" font-size="19" font-family='"DejaVu Sans", "Liberation Sans", sans-serif' textLength="51.8" lengthAdjust="spacingAndGlyphs" stroke="#000" stroke-width="0.55">Cake”</text>
<path d="M1555.4,395.7 C1578.4,395.7 1577.3,359.6 1596.8,355.3" fill="none" stroke="#4a78c6" stroke-width="1.1"/>
<path d="M1607.0,352.7 L1594.5,349.5 L1597.1,361.0 Z" fill="#4472c4"/>
<rect x="1607.7" y="343.2" width="29.2" height="19.8" fill="#fff" stroke="#1f335d" stroke-width="1.8"/>
<text x="1622.3" y="356.8" font-size="11" font-family='"Liberation Sans", "DejaVu Sans", sans-serif' font-weight="bold" text-anchor="middle">0.29</text>
<rect x="1642.5" y="342.4" width="180.3" height="20.5" rx="3.6" ry="3.6" fill="url(#hatch)" stroke="#1f335d" stroke-width="1.8"/>
<rect x="1642.5" y="342.4" width="48.7" height="20.5" rx="3.6" fill="#f9cf9b" stroke="#1f335d" stroke-width="1.8"/>
<path d="M1555.4,395.7 C1578.4,395.7 1576.7,386.3 1596.6,384.0" fill="none" stroke="#4a78c6" stroke-width="1.1"/>
<path d="M1607.0,382.6 L1594.9,378.1 L1596.3,389.9 Z" fill="#4472c4"/>
<rect x="1607.7" y="373.1" width="29.2" height="19.8" fill="#fff" stroke="#1f335d" stroke-width="1.8"/>
<text x="1622.3" y="386.7" font-size="11" font-family='"Liberation Sans", "DejaVu Sans", sans-serif' font-weight="bold" text-anchor="middle">0.27</text>
<rect x="1642.5" y="372.4" width="180.3" height="20.5" rx="3.6" ry="3.6" fill="url(#hatch)" stroke="#1f335d" stroke-width="1.8"/>
<rect x="1642.5" y="372.4" width="45.1" height="20.5" rx="3.6" fill="#f9cf9b" stroke="#1f335d" stroke-width="1.8"/>
<path d="M1555.4,395.7 C1578.4,395.7 1576.7,407.2 1596.6,409.5" fill="none" stroke="#4a78c6" stroke-width="1.1"/>
<path d="M1607.0,410.9 L1596.3,403.6 L1594.9,415.4 Z" fill="#4472c4"/>
<rect x="1607.7" y="401.4" width="29.2" height="19.8" fill="#fff" stroke="#1f335d" stroke-width="1.8"/>
<text x="1622.3" y="415.0" font-size="11" font-family='"Liberation Sans", "DejaVu Sans", sans-serif' font-weight="bold" text-anchor="middle">0.19</text>
<rect x="1642.5" y="400.6" width="180.3" height="20.5" rx="3.6" ry="3.6" fill="url(#hatch)" stroke="#1f335d" stroke-width="1.8"/>
<rect x="1642.5" y="400.6" width="31.2" height="20.5" rx="3.6" fill="#f9cf9b" stroke="#1f335d" stroke-width="1.8"/>
<path d="M1555.4,395.7 C1578.4,395.7 1577.3,432.2 1596.8,436.5" fill="none" stroke="#4a78c6" stroke-width="1.1"/>
<path d="M1607.0,439.1 L1597.1,430.8 L1594.5,442.3 Z" fill="#4472c4"/>
<rect x="1607.7" y="429.6" width="29.2" height="19.8" fill="#fff" stroke="#1f335d" stroke-width="1.8"/>
<text x="1622.3" y="443.2" font-size="11" font-family='"Liberation Sans", "DejaVu Sans", sans-serif' font-weight="bold" text-anchor="middle">0.25</text>
<rect x="1642.5" y="428.9" width="180.3" height="20.5" rx="3.6" ry="3.6" fill="url(#hatch)" stroke="#1f335d" stroke-width="1.8"/>
<rect x="1642.5" y="428.9" width="42.1" height="20.5" rx="3.6" fill="#f9cf9b" stroke="#1f335d" stroke-width="1.8"/>
<text x="1827.7" y="357.3" font-size="16" font-family='"Liberation Serif", "DejaVu Serif", serif' textLength="51.0" lengthAdjust="spacingAndGlyphs" stroke="#000" stroke-width="0.3">Layer 3</text>
<text x="1827.7" y="387.2" font-size="16" font-family='"Liberation Serif", "DejaVu Serif", serif' textLength="51.0" lengthAdjust="spacingAndGlyphs" stroke="#000" stroke-width="0.3">Layer 2</text>
<text x="1827.7" y="415.5" font-size="16" font-family='"Liberation Serif", "DejaVu Serif", serif' textLength="51.0" lengthAdjust="spacingAndGlyphs" stroke="#000" stroke-width="0.3">Layer 1</text>
<text x="1827.7" y="443.7" font-size="16" font-family='"Liberation Serif", "DejaVu Serif", serif' textLength="51.0" lengthAdjust="spacingAndGlyphs" stroke="#000" stroke-width="0.3">Layer 0</text>
<text x="1688.5" y="479.3" font-size="25" font-family='"Liberation Serif", "DejaVu Serif", serif' textLength="94.8" lengthAdjust="spacingAndGlyphs" stroke="#000" stroke-width="0.42">KV Cache</text>
<path d="M272.1,562.3 H522.5 M977.0,562.3 H1229.3" stroke="#6a2c80" stroke-width="1.7" fill="none"/>
<path d="M269.1,562.3 l11.7,-6.2 l-4.6,6.2 l4.6,6.2 Z M1232.3,562.3 l-11.7,-6.2 l4.6,6.2 l-4.6,6.2 Z" fill="#6a2c80"/>
<g transform="translate(548.9,562.8)">
<path d="M-15.8,0 Q-8,-10 0,-10 Q8,-10 15.8,0 Q8,10 0,10 Q-8,10 -15.8,0 Z" fill="#000"/>
<circle cx="0" cy="0" r="8.3" fill="#fff"/>
<circle cx="0" cy="0.3" r="4.7" fill="#000"/>
<circle cx="1.3" cy="1.6" r="1.4" fill="#fff"/>
<path d="M0,-18.9 V-14.8 M-17.5,-12.2 L-15.2,-10 M16.2,-10.2 L18.6,-12.2" stroke="#000" stroke-width="2.3" stroke-linecap="round" fill="none"/>
</g>
<text x="572.3" y="569.7" font-size="25" font-family='"DejaVu Sans", "Liberation Sans", sans-serif' textLength="391.7" lengthAdjust="spacingAndGlyphs" stroke="#000" stroke-width="0.55">Global View for Layer Preferences</text>
<rect x="269.2" y="589.5" width="964.4" height="124.2" rx="12" fill="#d4d4d4"/>
<rect x="269.2" y="588.6" width="964.4" height="124.2" rx="12" fill="#f2f2f2" stroke="#bfbfbf" stroke-width="1.8"/>
<g transform="translate(288.8,597.0)">
<rect x="0" y="0" width="86.7" height="86.7" fill="#3b0f63"/>
<rect x="0.0" y="0.0" width="10.8" height="10.8" fill="#eebbc8"/>
<rect x="0.0" y="10.8" width="10.8" height="10.8" fill="#dc94a7"/>
<rect x="10.8" y="10.8" width="10.8" height="10.8" fill="#eebbc8"/>
<rect x="0.0" y="21.7" width="10.8" height="10.8" fill="#dc94a7"/>
<rect x="10.8" y="21.7" width="10.8" height="10.8" fill="#be5572"/>
<rect x="21.7" y="21.7" width="10.8" height="10.8" fill="#eebbc8"/>
<rect x="0.0" y="32.5" width="10.8" height="10.8" fill="#eebbc8"/>
<rect x="10.8" y="32.5" width="10.8" height="10.8" fill="#be5572"/>
<rect x="21.7" y="32.5" width="10.8" height="10.8" fill="#dc94a7"/>
<rect x="32.5" y="32.5" width="10.8" height="10.8" fill="#eebbc8"/>
<rect x="0.0" y="43.4" width="10.8" height="10.8" fill="#dc94a7"/>
<rect x="10.8" y="43.4" width="10.8" height="10.8" fill="#eebbc8"/>
<rect x="21.7" y="43.4" width="10.8" height="10.8" fill="#dc94a7"/>
<rect x="32.5" y="43.4" width="10.8" height="10.8" fill="#be5572"/>
<rect x="43.4" y="43.4" width="10.8" height="10.8" fill="#eebbc8"/>
<rect x="0.0" y="54.2" width="10.8" height="10.8" fill="#dc94a7"/>
<rect x="10.8" y="54.2" width="10.8" height="10.8" fill="#be5572"/>
<rect x="21.7" y="54.2" width="10.8" height="10.8" fill="#eebbc8"/>
<rect x="32.5" y="54.2" width="10.8" height="10.8" fill="#be5572"/>
<rect x="43.4" y="54.2" width="10.8" height="10.8" fill="#dc94a7"/>
<rect x="54.2" y="54.2" width="10.8" height="10.8" fill="#eebbc8"/>
<rect x="0.0" y="65.0" width="10.8" height="10.8" fill="#eebbc8"/>
<rect x="10.8" y="65.0" width="10.8" height="10.8" fill="#be5572"/>
<rect x="21.7" y="65.0" width="10.8" height="10.8" fill="#dc94a7"/>
<rect x="32.5" y="65.0" width="10.8" height="10.8" fill="#eebbc8"/>
<rect x="43.4" y="65.0" width="10.8" height="10.8" fill="#dc94a7"/>
<rect x="54.2" y="65.0" width="10.8" height="10.8" fill="#dc94a7"/>
<rect x="65.0" y="65.0" width="10.8" height="10.8" fill="#eebbc8"/>
<rect x="0.0" y="75.9" width="10.8" height="10.8" fill="#dc94a7"/>
<rect x="10.8" y="75.9" width="10.8" height="10.8" fill="#eebbc8"/>
<rect x="21.7" y="75.9" width="10.8" height="10.8" fill="#dc94a7"/>
<rect x="32.5" y="75.9" width="10.8" height="10.8" fill="#be5572"/>
<rect x="43.4" y="75.9" width="10.8" height="10.8" fill="#eebbc8"/>
<rect x="54.2" y="75.9" width="10.8" height="10.8" fill="#dc94a7"/>
<rect x="65.0" y="75.9" width="10.8" height="10.8" fill="#dc94a7"/>
<rect x="75.9" y="75.9" width="10.8" height="10.8" fill="#eebbc8"/>
<path d="M0.0,0 V86.7 M0,0.0 H86.7 M10.8,0 V86.7 M0,10.8 H86.7 M21.7,0 V86.7 M0,21.7 H86.7 M32.5,0 V86.7 M0,32.5 H86.7 M43.4,0 V86.7 M0,43.4 H86.7 M54.2,0 V86.7 M0,54.2 H86.7 M65.0,0 V86.7 M0,65.0 H86.7 M75.9,0 V86.7 M0,75.9 H86.7 M86.7,0 V86.7 M0,86.7 H86.7 " stroke="#1f2a5c" stroke-width="0.9" fill="none" opacity="0.85"/>
</g>
<text x="308.1" y="701.2" font-size="16" font-family='"Liberation Serif", "DejaVu Serif", serif' textLength="50.0" lengthAdjust="spacingAndGlyphs" stroke="#000" stroke-width="0.3">Layer 0</text>
<path d="M377.1,639.4 L388.7,639.4 L388.7,636.0 L395.3,641.9 L388.7,647.8 L388.7,644.4 L377.1,644.4 Z" fill="#000"/>
<path d="M396.6,616.9 A16,16 0 0 1 412.6,600.9 H487.4 A16,16 0 0 1 503.4,616.9 V667.5 A16,16 0 0 1 487.4,683.5 H412.6 A16,16 0 0 1 396.6,667.5 Z" fill="#fff" stroke="#1f3060" stroke-width="1.9" stroke-dasharray="7.3 4.4" stroke-dashoffset="0"/>
<text x="404.7" y="632.1" font-size="16" font-family='"Liberation Serif", "DejaVu Serif", serif' textLength="73.8" lengthAdjust="spacingAndGlyphs" stroke="#000" stroke-width="0.3">Dispersion</text>
<text x="426.8" y="666.6" font-size="16" font-family='"Liberation Serif", "DejaVu Serif", serif' textLength="31.8" lengthAdjust="spacingAndGlyphs" stroke="#000" stroke-width="0.3">Shift</text>
<path d="M490.4,612.5 L500.5,622.7 L494.3,622.7 L494.3,635.1 L486.5,635.1 L486.5,622.7 L480.3,622.7 Z" fill="#b3261a"/>
<rect x="482.8" y="655.2" width="16" height="6.6" rx="1.5" fill="#c5e0b4"/>
<text x="415.3" y="701.3" font-size="16" font-family='"Liberation Serif", "DejaVu Serif", serif' textLength="72.0" lengthAdjust="spacingAndGlyphs"><tspan font-weight="bold" fill="#b3261a">High</tspan> Pref.</text>
<g transform="translate(520.7,597.3)">
<rect x="0" y="0" width="86.7" height="86.7" fill="#3b0f63"/>
<rect x="0.0" y="0.0" width="10.8" height="10.8" fill="#dc94a7"/>
<rect x="0.0" y="10.8" width="10.8" height="10.8" fill="#5b1e65"/>
<rect x="10.8" y="10.8" width="10.8" height="10.8" fill="#dc94a7"/>
<rect x="0.0" y="21.7" width="10.8" height="10.8" fill="#5b1e65"/>
<rect x="10.8" y="21.7" width="10.8" height="10.8" fill="#5b1e65"/>
<rect x="21.7" y="21.7" width="10.8" height="10.8" fill="#dc94a7"/>
<rect x="0.0" y="32.5" width="10.8" height="10.8" fill="#5b1e65"/>
<rect x="10.8" y="32.5" width="10.8" height="10.8" fill="#5b1e65"/>
<rect x="21.7" y="32.5" width="10.8" height="10.8" fill="#dc94a7"/>
<rect x="32.5" y="32.5" width="10.8" height="10.8" fill="#dc94a7"/>
<rect x="0.0" y="43.4" width="10.8" height="10.8" fill="#5b1e65"/>
<rect x="10.8" y="43.4" width="10.8" height="10.8" fill="#5b1e65"/>
<rect x="21.7" y="43.4" width="10.8" height="10.8" fill="#dc94a7"/>
<rect x="32.5" y="43.4" width="10.8" height="10.8" fill="#5b1e65"/>
<rect x="43.4" y="43.4" width="10.8" height="10.8" fill="#dc94a7"/>
<rect x="0.0" y="54.2" width="10.8" height="10.8" fill="#5b1e65"/>
<rect x="10.8" y="54.2" width="10.8" height="10.8" fill="#5b1e65"/>
<rect x="21.7" y="54.2" width="10.8" height="10.8" fill="#dc94a7"/>
<rect x="32.5" y="54.2" width="10.8" height="10.8" fill="#5b1e65"/>
<rect x="43.4" y="54.2" width="10.8" height="10.8" fill="#5b1e65"/>
<rect x="54.2" y="54.2" width="10.8" height="10.8" fill="#dc94a7"/>
<rect x="0.0" y="65.0" width="10.8" height="10.8" fill="#5b1e65"/>
<rect x="10.8" y="65.0" width="10.8" height="10.8" fill="#5b1e65"/>
<rect x="21.7" y="65.0" width="10.8" height="10.8" fill="#dc94a7"/>
<rect x="32.5" y="65.0" width="10.8" height="10.8" fill="#5b1e65"/>
<rect x="43.4" y="65.0" width="10.8" height="10.8" fill="#5b1e65"/>
<rect x="54.2" y="65.0" width="10.8" height="10.8" fill="#dc94a7"/>
<rect x="65.0" y="65.0" width="10.8" height="10.8" fill="#dc94a7"/>
<rect x="0.0" y="75.9" width="10.8" height="10.8" fill="#5b1e65"/>
<rect x="10.8" y="75.9" width="10.8" height="10.8" fill="#5b1e65"/>
<rect x="21.7" y="75.9" width="10.8" height="10.8" fill="#dc94a7"/>
<rect x="32.5" y="75.9" width="10.8" height="10.8" fill="#5b1e65"/>
<rect x="43.4" y="75.9" width="10.8" height="10.8" fill="#5b1e65"/>
<rect x="54.2" y="75.9" width="10.8" height="10.8" fill="#dc94a7"/>
<rect x="65.0" y="75.9" width="10.8" height="10.8" fill="#5b1e65"/>
<rect x="75.9" y="75.9" width="10.8" height="10.8" fill="#dc94a7"/>
<path d="M0.0,0 V86.7 M0,0.0 H86.7 M10.8,0 V86.7 M0,10.8 H86.7 M21.7,0 V86.7 M0,21.7 H86.7 M32.5,0 V86.7 M0,32.5 H86.7 M43.4,0 V86.7 M0,43.4 H86.7 M54.2,0 V86.7 M0,54.2 H86.7 M65.0,0 V86.7 M0,65.0 H86.7 M75.9,0 V86.7 M0,75.9 H86.7 M86.7,0 V86.7 M0,86.7 H86.7 " stroke="#1f2a5c" stroke-width="0.9" fill="none" opacity="0.85"/>
</g>
<text x="540.0" y="701.2" font-size="16" font-family='"Liberation Serif", "DejaVu Serif", serif' textLength="50.0" lengthAdjust="spacingAndGlyphs" stroke="#000" stroke-width="0.3">Layer 1</text>
<path d="M609.0,639.4 L621.2,639.4 L621.2,636.0 L627.8,641.9 L621.2,647.8 L621.2,644.4 L609.0,644.4 Z" fill="#000"/>
<path d="M629.1,616.9 A16,16 0 0 1 645.1,600.9 H720.2 A16,16 0 0 1 736.2,616.9 V667.5 A16,16 0 0 1 720.2,683.5 H645.1 A16,16 0 0 1 629.1,667.5 Z" fill="#fff" stroke="#1f3060" stroke-width="1.9" stroke-dasharray="7.3 4.4" stroke-dashoffset="0"/>
<text x="637.2" y="632.1" font-size="16" font-family='"Liberation Serif", "DejaVu Serif", serif' textLength="73.8" lengthAdjust="spacingAndGlyphs" stroke="#000" stroke-width="0.3">Dispersion</text>
<text x="659.3" y="666.6" font-size="16" font-family='"Liberation Serif", "DejaVu Serif", serif' textLength="31.8" lengthAdjust="spacingAndGlyphs" stroke="#000" stroke-width="0.3">Shift</text>
<path d="M722.9,635.1 L733.0,624.9 L726.8,624.9 L726.8,612.5 L719.0,612.5 L719.0,624.9 L712.8,624.9 Z" fill="#4179b9"/>
<path d="M722.9,669.8 L733.0,659.6 L726.8,659.6 L726.8,647.2 L719.0,647.2 L719.0,659.6 L712.8,659.6 Z" fill="#4179b9"/>
<text x="650.9" y="701.3" font-size="16" font-family='"Liberation Serif", "DejaVu Serif", serif' textLength="66.2" lengthAdjust="spacingAndGlyphs"><tspan font-weight="bold" fill="#2e75b6">Low</tspan> Pref.</text>
<g transform="translate(763.2,597.3)">
<rect x="0" y="0" width="86.7" height="86.7" fill="#3b0f63"/>
<rect x="0.0" y="0.0" width="10.8" height="10.8" fill="#fdeee4"/>
<rect x="0.0" y="10.8" width="10.8" height="10.8" fill="#f7dcd9"/>
<rect x="10.8" y="10.8" width="10.8" height="10.8" fill="#dc94a7"/>
<rect x="0.0" y="21.7" width="10.8" height="10.8" fill="#f7dcd9"/>
<rect x="10.8" y="21.7" width="10.8" height="10.8" fill="#be5572"/>
<rect x="21.7" y="21.7" width="10.8" height="10.8" fill="#dc94a7"/>
<rect x="0.0" y="32.5" width="10.8" height="10.8" fill="#f7dcd9"/>
<rect x="10.8" y="32.5" width="10.8" height="10.8" fill="#be5572"/>
<rect x="21.7" y="32.5" width="10.8" height="10.8" fill="#eebbc8"/>
<rect x="32.5" y="32.5" width="10.8" height="10.8" fill="#dc94a7"/>
<rect x="0.0" y="43.4" width="10.8" height="10.8" fill="#dc94a7"/>
<rect x="10.8" y="43.4" width="10.8" height="10.8" fill="#f7dcd9"/>
<rect x="21.7" y="43.4" width="10.8" height="10.8" fill="#be5572"/>
<rect x="32.5" y="43.4" width="10.8" height="10.8" fill="#eebbc8"/>
<rect x="43.4" y="43.4" width="10.8" height="10.8" fill="#dc94a7"/>
<rect x="0.0" y="54.2" width="10.8" height="10.8" fill="#be5572"/>
<rect x="10.8" y="54.2" width="10.8" height="10.8" fill="#dc94a7"/>
<rect x="21.7" y="54.2" width="10.8" height="10.8" fill="#f7dcd9"/>
<rect x="32.5" y="54.2" width="10.8" height="10.8" fill="#5b1e65"/>
<rect x="43.4" y="54.2" width="10.8" height="10.8" fill="#be5572"/>
<rect x="54.2" y="54.2" width="10.8" height="10.8" fill="#dc94a7"/>
<rect x="0.0" y="65.0" width="10.8" height="10.8" fill="#be5572"/>
<rect x="10.8" y="65.0" width="10.8" height="10.8" fill="#f7dcd9"/>
<rect x="21.7" y="65.0" width="10.8" height="10.8" fill="#dc94a7"/>
<rect x="32.5" y="65.0" width="10.8" height="10.8" fill="#f7dcd9"/>
<rect x="43.4" y="65.0" width="10.8" height="10.8" fill="#f7dcd9"/>
<rect x="54.2" y="65.0" width="10.8" height="10.8" fill="#dc94a7"/>
<rect x="65.0" y="65.0" width="10.8" height="10.8" fill="#dc94a7"/>
<rect x="0.0" y="75.9" width="10.8" height="10.8" fill="#be5572"/>
<rect x="10.8" y="75.9" width="10.8" height="10.8" fill="#eebbc8"/>
<rect x="21.7" y="75.9" width="10.8" height="10.8" fill="#dc94a7"/>
<rect x="32.5" y="75.9" width="10.8" height="10.8" fill="#be5572"/>
<rect x="43.4" y="75.9" width="10.8" height="10.8" fill="#be5572"/>
<rect x="54.2" y="75.9" width="10.8" height="10.8" fill="#f7dcd9"/>
<rect x="65.0" y="75.9" width="10.8" height="10.8" fill="#dc94a7"/>
<rect x="75.9" y="75.9" width="10.8" height="10.8" fill="#dc94a7"/>
<path d="M0.0,0 V86.7 M0,0.0 H86.7 M10.8,0 V86.7 M0,10.8 H86.7 M21.7,0 V86.7 M0,21.7 H86.7 M32.5,0 V86.7 M0,32.5 H86.7 M43.4,0 V86.7 M0,43.4 H86.7 M54.2,0 V86.7 M0,54.2 H86.7 M65.0,0 V86.7 M0,65.0 H86.7 M75.9,0 V86.7 M0,75.9 H86.7 M86.7,0 V86.7 M0,86.7 H86.7 " stroke="#1f2a5c" stroke-width="0.9" fill="none" opacity="0.85"/>
</g>
<text x="782.6" y="701.2" font-size="16" font-family='"Liberation Serif", "DejaVu Serif", serif' textLength="50.0" lengthAdjust="spacingAndGlyphs" stroke="#000" stroke-width="0.3">Layer 2</text>
<path d="M851.6,639.4 L864.2,639.4 L864.2,636.0 L870.8,641.9 L864.2,647.8 L864.2,644.4 L851.6,644.4 Z" fill="#000"/>
<path d="M872.1,616.9 A16,16 0 0 1 888.1,600.9 H962.9 A16,16 0 0 1 978.9,616.9 V667.5 A16,16 0 0 1 962.9,683.5 H888.1 A16,16 0 0 1 872.1,667.5 Z" fill="#fff" stroke="#1f3060" stroke-width="1.9" stroke-dasharray="7.3 4.4" stroke-dashoffset="0"/>
<text x="880.2" y="632.1" font-size="16" font-family='"Liberation Serif", "DejaVu Serif", serif' textLength="73.8" lengthAdjust="spacingAndGlyphs" stroke="#000" stroke-width="0.3">Dispersion</text>
<text x="902.3" y="666.6" font-size="16" font-family='"Liberation Serif", "DejaVu Serif", serif' textLength="31.8" lengthAdjust="spacingAndGlyphs" stroke="#000" stroke-width="0.3">Shift</text>
<path d="M965.9,612.5 L976.0,622.7 L969.8,622.7 L969.8,635.1 L962.0,635.1 L962.0,622.7 L955.8,622.7 Z" fill="#b3261a"/>
<path d="M965.9,647.2 L976.0,657.4 L969.8,657.4 L969.8,669.8 L962.0,669.8 L962.0,657.4 L955.8,657.4 Z" fill="#b3261a"/>
<text x="890.8" y="701.3" font-size="16" font-family='"Liberation Serif", "DejaVu Serif", serif' textLength="72.0" lengthAdjust="spacingAndGlyphs"><tspan font-weight="bold" fill="#b3261a">High</tspan> Pref.</text>
<g transform="translate(999.5,597.5)">
<rect x="0" y="0" width="86.7" height="86.7" fill="#3b0f63"/>
<rect x="0.0" y="0.0" width="10.8" height="10.8" fill="#dc94a7"/>
<rect x="10.8" y="10.8" width="10.8" height="10.8" fill="#dc94a7"/>
<rect x="21.7" y="21.7" width="10.8" height="10.8" fill="#dc94a7"/>
<rect x="21.7" y="32.5" width="10.8" height="10.8" fill="#dc94a7"/>
<rect x="32.5" y="32.5" width="10.8" height="10.8" fill="#dc94a7"/>
<rect x="21.7" y="43.4" width="10.8" height="10.8" fill="#dc94a7"/>
<rect x="32.5" y="43.4" width="10.8" height="10.8" fill="#eebbc8"/>
<rect x="43.4" y="43.4" width="10.8" height="10.8" fill="#dc94a7"/>
<rect x="21.7" y="54.2" width="10.8" height="10.8" fill="#dc94a7"/>
<rect x="32.5" y="54.2" width="10.8" height="10.8" fill="#eebbc8"/>
<rect x="54.2" y="54.2" width="10.8" height="10.8" fill="#dc94a7"/>
<rect x="21.7" y="65.0" width="10.8" height="10.8" fill="#dc94a7"/>
<rect x="32.5" y="65.0" width="10.8" height="10.8" fill="#eebbc8"/>
<rect x="54.2" y="65.0" width="10.8" height="10.8" fill="#5b1e65"/>
<rect x="65.0" y="65.0" width="10.8" height="10.8" fill="#dc94a7"/>
<rect x="21.7" y="75.9" width="10.8" height="10.8" fill="#dc94a7"/>
<rect x="32.5" y="75.9" width="10.8" height="10.8" fill="#eebbc8"/>
<rect x="54.2" y="75.9" width="10.8" height="10.8" fill="#5b1e65"/>
<rect x="75.9" y="75.9" width="10.8" height="10.8" fill="#dc94a7"/>
<path d="M0.0,0 V86.7 M0,0.0 H86.7 M10.8,0 V86.7 M0,10.8 H86.7 M21.7,0 V86.7 M0,21.7 H86.7 M32.5,0 V86.7 M0,32.5 H86.7 M43.4,0 V86.7 M0,43.4 H86.7 M54.2,0 V86.7 M0,54.2 H86.7 M65.0,0 V86.7 M0,65.0 H86.7 M75.9,0 V86.7 M0,75.9 H86.7 M86.7,0 V86.7 M0,86.7 H86.7 " stroke="#1f2a5c" stroke-width="0.9" fill="none" opacity="0.85"/>
</g>
<text x="1019.1" y="701.2" font-size="16" font-family='"Liberation Serif", "DejaVu Serif", serif' textLength="50.0" lengthAdjust="spacingAndGlyphs" stroke="#000" stroke-width="0.3">Layer 3</text>
<path d="M1088.1,639.4 L1101.4,639.4 L1101.4,636.0 L1108.0,641.9 L1101.4,647.8 L1101.4,644.4 L1088.1,644.4 Z" fill="#000"/>
<path d="M1109.3,616.9 A16,16 0 0 1 1125.3,600.9 H1200.1 A16,16 0 0 1 1216.1,616.9 V667.5 A16,16 0 0 1 1200.1,683.5 H1125.3 A16,16 0 0 1 1109.3,667.5 Z" fill="#fff" stroke="#1f3060" stroke-width="1.9" stroke-dasharray="7.3 4.4" stroke-dashoffset="0"/>
<text x="1117.4" y="632.1" font-size="16" font-family='"Liberation Serif", "DejaVu Serif", serif' textLength="73.8" lengthAdjust="spacingAndGlyphs" stroke="#000" stroke-width="0.3">Dispersion</text>
<text x="1139.5" y="666.6" font-size="16" font-family='"Liberation Serif", "DejaVu Serif", serif' textLength="31.8" lengthAdjust="spacingAndGlyphs" stroke="#000" stroke-width="0.3">Shift</text>
<path d="M1203.1,612.5 L1213.2,622.7 L1207.0,622.7 L1207.0,635.1 L1199.2,635.1 L1199.2,622.7 L1193.0,622.7 Z" fill="#b3261a"/>
<path d="M1203.1,669.8 L1213.2,659.6 L1207.0,659.6 L1207.0,647.2 L1199.2,647.2 L1199.2,659.6 L1193.0,659.6 Z" fill="#4179b9"/>
<text x="1132.3" y="701.3" font-size="16" font-family='"Liberation Serif", "DejaVu Serif", serif' textLength="63.4" lengthAdjust="spacingAndGlyphs"><tspan font-weight="bold" fill="#a9d18e">Mid</tspan> Pref.</text>
<text x="575.2" y="742.0" font-size="25" font-family='"Liberation Serif", "DejaVu Serif", serif' textLength="397.0" lengthAdjust="spacingAndGlyphs" stroke="#000" stroke-width="0.42">Attention Weights for all Layers (L=4)</text>
<path d="M225.4,640.1 L253.3,640.1 L253.3,635.9 L263.3,643.4 L253.3,650.9 L253.3,646.7 L225.4,646.7 Z" fill="#000"/>
<path d="M70.8,566.0 L195.7,566.0 Q219.7,566.0 219.7,590.0 L219.7,654.6 Q219.7,678.6 195.7,678.6 L113.0,678.6 L72.2,685.0 L74.5,678.6 L70.8,678.6 Q46.8,678.6 46.8,654.6 L46.8,590.0 Q46.8,566.0 70.8,566.0 Z" fill="#f2f2f2" stroke="#44546a" stroke-width="1.1"/>
<rect x="60.8" y="576" width="142.4" height="14.4" fill="#fcebe1"/>
<rect x="60.8" y="590.4" width="126" height="14.6" fill="#fcebe1"/>
<rect x="60.8" y="605" width="52" height="15" fill="#fcebe1"/>
<rect x="60.8" y="651.4" width="55.2" height="14.6" fill="#f0bdc6"/>
<text x="61.0" y="587.0" font-size="12.6" font-family='"Liberation Serif", "DejaVu Serif", serif' textLength="141.5" lengthAdjust="spacingAndGlyphs" stroke="#000" stroke-width="0.22">Please read the following</text>
<text x="61.0" y="602.2" font-size="12.6" font-family='"Liberation Serif", "DejaVu Serif", serif' textLength="122.0" lengthAdjust="spacingAndGlyphs" stroke="#000" stroke-width="0.22">article and answer my</text>
<text x="61.0" y="617.0" font-size="12.6" font-family='"Liberation Serif", "DejaVu Serif", serif' textLength="51.0" lengthAdjust="spacingAndGlyphs" stroke="#000" stroke-width="0.22">question.</text>
<text x="135.6" y="633.0" font-size="12.6" font-family='"Liberation Serif", "DejaVu Serif", serif' text-anchor="middle" stroke="#000" stroke-width="0.22">.........</text>
<text x="61.0" y="662.7" font-size="12.6" font-family='"Liberation Serif", "DejaVu Serif", serif' textLength="54.5" lengthAdjust="spacingAndGlyphs" stroke="#000" stroke-width="0.22">Question:</text>
<g fill="#7f7f7f">
<path d="M37.7,725.3 L37.7,720.2 Q37.7,706.7 51.2,706.7 L61.4,706.7 Q74.9,706.7 74.9,720.2 L74.9,725.3 Q74.9,731.3 68.9,731.3 L43.7,731.3 Q37.7,731.3 37.7,725.3 Z"/>
<circle cx="56.3" cy="698.3" r="12.8" fill="#fff"/>
<circle cx="56.3" cy="698.3" r="11.2"/>
</g>
<text x="93.6" y="743.9" font-size="25" font-family='"Liberation Serif", "DejaVu Serif", serif' textLength="99.2" lengthAdjust="spacingAndGlyphs" stroke="#000" stroke-width="0.42">Context B</text>
<text x="1266.7" y="609.5" font-size="19.5" font-family='"DejaVu Sans", "Liberation Sans", sans-serif' textLength="52.5" lengthAdjust="spacingAndGlyphs" stroke="#000" stroke-width="0.55">Guide</text>
<text x="1247.3" y="634.7" font-size="19.5" font-family='"DejaVu Sans", "Liberation Sans", sans-serif' textLength="92.3" lengthAdjust="spacingAndGlyphs" stroke="#000" stroke-width="0.55">Allocation</text>
<path d="M1257.2,646.8 L1324.0,646.8 L1324.0,642.6 L1332.0,650.0 L1324.0,657.4 L1324.0,653.2 L1257.2,653.2 Z" fill="#000"/>
<g transform="translate(1343.0,591.0)">
<clipPath id="ck4"><path d="M0,27.4 L0,67.6 A60,27.4 0 0 0 120,67.6 L120,27.4 Z"/></clipPath>
<g clip-path="url(#ck4)">
<rect x="0" y="0" width="120" height="100" fill="#dcdcee"/>
<path d="M-1,0 L-1.0,67.6 C-0.4,67.9 0.5,67.9 2.7,69.1 C4.9,70.3 9.0,73.1 12.1,74.8 C15.3,76.4 18.4,77.8 21.5,79.0 C24.7,80.2 27.8,81.1 31.0,81.9 C34.1,82.6 37.2,83.3 40.4,83.7 C43.5,84.2 46.7,84.5 49.8,84.7 C52.9,84.8 56.1,84.8 59.2,84.7 C62.4,84.6 65.5,84.4 68.6,84.2 C71.8,84.0 74.9,83.7 78.0,83.3 C81.2,82.8 84.3,82.2 87.5,81.4 C90.6,80.6 93.7,79.7 96.9,78.6 C100.0,77.4 103.2,76.2 106.3,74.3 C109.4,72.4 113.6,69.2 115.7,67.3 C117.8,65.3 118.1,63.7 119.0,62.5 C119.9,61.4 120.7,60.9 121.0,60.5 L121,0 Z" fill="#efeffc"/>
<path d="M-1,0 L-1.0,58.7 C-0.4,58.9 0.5,59.2 2.7,60.2 C4.9,61.2 9.0,63.6 12.1,64.4 C15.3,65.2 18.4,64.1 21.5,64.9 C24.7,65.7 27.8,67.5 31.0,69.1 C34.1,70.8 37.2,73.5 40.4,74.8 C43.5,76.0 46.7,76.7 49.8,76.7 C52.9,76.7 56.1,75.7 59.2,74.8 C62.4,73.8 65.5,71.3 68.6,71.0 C71.8,70.8 74.9,72.7 78.0,73.4 C81.2,74.0 84.3,75.0 87.5,74.8 C90.6,74.6 93.7,73.2 96.9,72.0 C100.0,70.7 103.2,68.9 106.3,67.3 C109.4,65.6 113.6,63.6 115.7,62.1 C117.8,60.5 118.1,58.9 119.0,57.8 C119.9,56.8 120.7,56.2 121.0,55.8 L121,0 Z" fill="#dcdcee"/>
<path d="M-1,0 L-1.0,53.5 C-0.4,53.8 0.5,54.1 2.7,55.0 C4.9,56.0 9.0,58.5 12.1,59.3 C15.3,60.0 18.4,59.0 21.5,59.7 C24.7,60.4 27.8,61.9 31.0,63.5 C34.1,65.1 37.2,68.0 40.4,69.1 C43.5,70.3 46.7,70.6 49.8,70.6 C52.9,70.6 56.1,69.7 59.2,69.1 C62.4,68.6 65.5,67.4 68.6,67.3 C71.8,67.1 74.9,67.9 78.0,68.2 C81.2,68.5 84.3,69.6 87.5,69.1 C90.6,68.7 93.7,67.0 96.9,65.4 C100.0,63.7 103.2,60.8 106.3,59.3 C109.4,57.7 113.6,57.3 115.7,56.0 C117.8,54.6 118.1,52.4 119.0,51.2 C119.9,50.1 120.7,49.6 121.0,49.2 L121,0 Z" fill="#c197be"/>
<path d="M-1,0 L-1.0,49.7 C-0.4,50.0 0.5,50.3 2.7,51.2 C4.9,52.2 9.0,54.8 12.1,55.5 C15.3,56.1 18.4,54.7 21.5,55.2 C24.7,55.7 27.8,56.8 31.0,58.3 C34.1,59.8 37.2,63.2 40.4,64.4 C43.5,65.7 46.7,66.0 49.8,65.8 C52.9,65.7 56.1,64.4 59.2,63.7 C62.4,63.0 65.5,61.7 68.6,61.6 C71.8,61.5 74.9,62.7 78.0,63.0 C81.2,63.3 84.3,64.0 87.5,63.5 C90.6,62.9 93.7,61.3 96.9,59.7 C100.0,58.2 103.2,55.5 106.3,54.1 C109.4,52.7 113.5,52.3 115.7,51.2 C117.9,50.2 118.4,48.4 119.3,47.5 C120.2,46.5 120.7,45.8 121.0,45.5 L121,0 Z" fill="#d5a6ce"/>
</g>
<ellipse cx="60" cy="27.4" rx="60" ry="27.4" fill="#d9d9ec"/>
<ellipse cx="60.5" cy="24.5" rx="51" ry="21" fill="#f0f0fd"/>
</g>
<text x="1325.0" y="717.2" font-size="25" font-family='"Liberation Serif", "DejaVu Serif", serif' textLength="165.9" lengthAdjust="spacingAndGlyphs" stroke="#000" stroke-width="0.42">Memory Budget</text>
<text x="1462.4" y="615.7" font-size="19" font-family='"DejaVu Sans", "Liberation Sans", sans-serif' textLength="99.2" lengthAdjust="spacingAndGlyphs" stroke="#000" stroke-width="0.55">“Rationally</text>
<text x="1481.8" y="639.4" font-size="19" font-family='"DejaVu Sans", "Liberation Sans", sans-serif' textLength="61.6" lengthAdjust="spacingAndGlyphs" stroke="#000" stroke-width="0.55">Slicing</text>
<text x="1489.0" y="663.1" font-size="19" font-family='"DejaVu Sans", "Liberation Sans", sans-serif' textLength="51.8" lengthAdjust="spacingAndGlyphs" stroke="#000" stroke-width="0.55">Cake”</text>
<path d="M1555.4,632.1 C1578.4,632.1 1577.3,596.0 1596.8,591.7" fill="none" stroke="#4a78c6" stroke-width="1.1"/>
<path d="M1607.0,589.1 L1594.5,585.9 L1597.1,597.4 Z" fill="#4472c4"/>
<rect x="1607.7" y="579.6" width="29.2" height="19.8" fill="#fff" stroke="#1f335d" stroke-width="1.8"/>
<text x="1622.3" y="593.2" font-size="11" font-family='"Liberation Sans", "DejaVu Sans", sans-serif' font-weight="bold" text-anchor="middle">0.23</text>
<rect x="1642.5" y="578.9" width="180.3" height="20.5" rx="3.6" ry="3.6" fill="url(#hatch)" stroke="#1f335d" stroke-width="1.8"/>
<rect x="1642.5" y="578.9" width="38.6" height="20.5" rx="3.6" fill="#f9cf9b" stroke="#1f335d" stroke-width="1.8"/>
<path d="M1555.4,632.1 C1578.4,632.1 1576.7,622.7 1596.6,620.4" fill="none" stroke="#4a78c6" stroke-width="1.1"/>
<path d="M1607.0,619.0 L1594.9,614.5 L1596.3,626.3 Z" fill="#4472c4"/>
<rect x="1607.7" y="609.5" width="29.2" height="19.8" fill="#fff" stroke="#1f335d" stroke-width="1.8"/>
<text x="1622.3" y="623.1" font-size="11" font-family='"Liberation Sans", "DejaVu Sans", sans-serif' font-weight="bold" text-anchor="middle">0.35</text>
<rect x="1642.5" y="608.8" width="180.3" height="20.5" rx="3.6" ry="3.6" fill="url(#hatch)" stroke="#1f335d" stroke-width="1.8"/>
<rect x="1642.5" y="608.8" width="59.6" height="20.5" rx="3.6" fill="#f9cf9b" stroke="#1f335d" stroke-width="1.8"/>
<path d="M1555.4,632.1 C1578.4,632.1 1576.7,643.6 1596.6,645.9" fill="none" stroke="#4a78c6" stroke-width="1.1"/>
<path d="M1607.0,647.3 L1596.3,640.0 L1594.9,651.8 Z" fill="#4472c4"/>
<rect x="1607.7" y="637.8" width="29.2" height="19.8" fill="#fff" stroke="#1f335d" stroke-width="1.8"/>
<text x="1622.3" y="651.4" font-size="11" font-family='"Liberation Sans", "DejaVu Sans", sans-serif' font-weight="bold" text-anchor="middle">0.11</text>
<rect x="1642.5" y="637.0" width="180.3" height="20.5" rx="3.6" ry="3.6" fill="url(#hatch)" stroke="#1f335d" stroke-width="1.8"/>
<rect x="1642.5" y="637.0" width="17.6" height="20.5" rx="3.6" fill="#f9cf9b" stroke="#1f335d" stroke-width="1.8"/>
<path d="M1555.4,632.1 C1578.4,632.1 1577.3,668.6 1596.8,672.9" fill="none" stroke="#4a78c6" stroke-width="1.1"/>
<path d="M1607.0,675.5 L1597.1,667.2 L1594.5,678.7 Z" fill="#4472c4"/>
<rect x="1607.7" y="666.0" width="29.2" height="19.8" fill="#fff" stroke="#1f335d" stroke-width="1.8"/>
<text x="1622.3" y="679.6" font-size="11" font-family='"Liberation Sans", "DejaVu Sans", sans-serif' font-weight="bold" text-anchor="middle">0.31</text>
<rect x="1642.5" y="665.2" width="180.3" height="20.5" rx="3.6" ry="3.6" fill="url(#hatch)" stroke="#1f335d" stroke-width="1.8"/>
<rect x="1642.5" y="665.2" width="51.6" height="20.5" rx="3.6" fill="#f9cf9b" stroke="#1f335d" stroke-width="1.8"/>
<text x="1827.7" y="593.7" font-size="16" font-family='"Liberation Serif", "DejaVu Serif", serif' textLength="51.0" lengthAdjust="spacingAndGlyphs" stroke="#000" stroke-width="0.3">Layer 3</text>
<text x="1827.7" y="623.6" font-size="16" font-family='"Liberation Serif", "DejaVu Serif", serif' textLength="51.0" lengthAdjust="spacingAndGlyphs" stroke="#000" stroke-width="0.3">Layer 2</text>
<text x="1827.7" y="651.9" font-size="16" font-family='"Liberation Serif", "DejaVu Serif", serif' textLength="51.0" lengthAdjust="spacingAndGlyphs" stroke="#000" stroke-width="0.3">Layer 1</text>
<text x="1827.7" y="680.1" font-size="16" font-family='"Liberation Serif", "DejaVu Serif", serif' textLength="51.0" lengthAdjust="spacingAndGlyphs" stroke="#000" stroke-width="0.3">Layer 0</text>
<text x="1688.5" y="715.7" font-size="25" font-family='"Liberation Serif", "DejaVu Serif", serif' textLength="94.8" lengthAdjust="spacingAndGlyphs" stroke="#000" stroke-width="0.42">KV Cache</text>
</svg>
</body></html>
